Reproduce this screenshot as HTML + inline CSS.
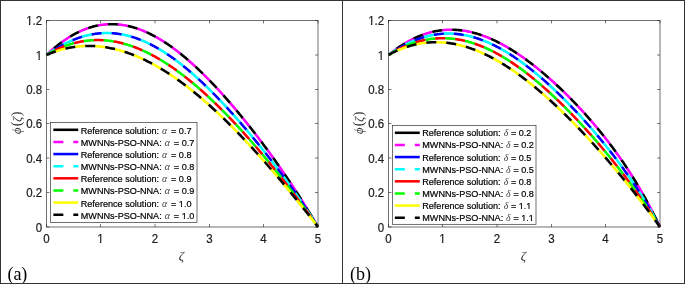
<!DOCTYPE html>
<html><head><meta charset="utf-8"><title>fig</title>
<style>
html,body{margin:0;padding:0;background:#fff;}
svg{display:block;will-change:transform;opacity:0.999;}
text{font-family:"Liberation Sans",sans-serif;fill:#1a1a1a;}
.tk{font-size:11.5px;stroke:#222;stroke-width:0.2px;}
.lg{font-size:9.1px;fill:#000;stroke:#000;stroke-width:0.2px;}
.mi{font-family:"Liberation Serif",serif;font-style:italic;fill:#333;}
.sy{font-size:9.8px;fill:#444;}
.mr{font-family:"Liberation Serif",serif;font-style:normal;}
.pl{font-family:"Liberation Serif",serif;font-size:18px;fill:#000;}
</style></head><body>
<svg width="685" height="284" viewBox="0 0 685 284">

<g>
<path d="M46.50,54.92 L47.59,53.90 L48.67,52.91 L49.76,51.92 L50.84,50.96 L51.93,50.01 L53.02,49.08 L54.10,48.16 L55.19,47.26 L56.27,46.38 L57.36,45.51 L58.45,44.67 L59.53,43.83 L60.62,43.02 L61.70,42.22 L62.79,41.44 L63.88,40.67 L64.96,39.93 L66.05,39.20 L67.13,38.49 L68.22,37.79 L69.31,37.11 L70.39,36.45 L71.48,35.81 L72.56,35.18 L73.65,34.57 L74.74,33.98 L75.82,33.41 L76.91,32.85 L77.99,32.31 L79.08,31.79 L80.17,31.29 L81.25,30.80 L82.34,30.33 L83.42,29.88 L84.51,29.44 L85.60,29.03 L86.68,28.63 L87.77,28.25 L88.85,27.88 L89.94,27.53 L91.03,27.20 L92.11,26.89 L93.20,26.59 L94.28,26.31 L95.37,26.05 L96.46,25.81 L97.54,25.58 L98.63,25.37 L99.71,25.18 L100.80,25.00 L101.89,24.84 L102.97,24.70 L104.06,24.58 L105.14,24.47 L106.23,24.38 L107.32,24.30 L108.40,24.25 L109.49,24.20 L110.57,24.18 L111.66,24.17 L112.75,24.18 L113.83,24.20 L114.92,24.24 L116.00,24.30 L117.09,24.37 L118.18,24.46 L119.26,24.57 L120.35,24.69 L121.43,24.83 L122.52,24.98 L123.61,25.15 L124.69,25.33 L125.78,25.53 L126.86,25.75 L127.95,25.98 L129.04,26.23 L130.12,26.49 L131.21,26.77 L132.29,27.06 L133.38,27.36 L134.47,27.69 L135.55,28.02 L136.64,28.37 L137.72,28.74 L138.81,29.12 L139.90,29.52 L140.98,29.93 L142.07,30.35 L143.15,30.79 L144.24,31.24 L145.33,31.70 L146.41,32.18 L147.50,32.68 L148.58,33.19 L149.67,33.71 L150.76,34.24 L151.84,34.79 L152.93,35.35 L154.01,35.92 L155.10,36.51 L156.19,37.11 L157.27,37.72 L158.36,38.35 L159.44,38.99 L160.53,39.64 L161.62,40.30 L162.70,40.98 L163.79,41.67 L164.87,42.37 L165.96,43.08 L167.05,43.81 L168.13,44.54 L169.22,45.29 L170.30,46.05 L171.39,46.82 L172.48,47.60 L173.56,48.40 L174.65,49.20 L175.73,50.02 L176.82,50.85 L177.91,51.68 L178.99,52.53 L180.08,53.39 L181.16,54.26 L182.25,55.14 L183.34,56.03 L184.42,56.94 L185.51,57.85 L186.59,58.77 L187.68,59.70 L188.77,60.64 L189.85,61.59 L190.94,62.56 L192.02,63.53 L193.11,64.51 L194.20,65.50 L195.28,66.50 L196.37,67.50 L197.45,68.52 L198.54,69.55 L199.63,70.58 L200.71,71.63 L201.80,72.68 L202.88,73.74 L203.97,74.81 L205.06,75.89 L206.14,76.98 L207.23,78.07 L208.31,79.18 L209.40,80.29 L210.49,81.41 L211.57,82.54 L212.66,83.67 L213.74,84.82 L214.83,85.97 L215.92,87.13 L217.00,88.30 L218.09,89.47 L219.17,90.65 L220.26,91.84 L221.35,93.04 L222.43,94.24 L223.52,95.46 L224.60,96.67 L225.69,97.90 L226.78,99.13 L227.86,100.37 L228.95,101.62 L230.03,102.87 L231.12,104.13 L232.21,105.40 L233.29,106.67 L234.38,107.95 L235.46,109.24 L236.55,110.54 L237.64,111.84 L238.72,113.14 L239.81,114.46 L240.89,115.78 L241.98,117.10 L243.07,118.44 L244.15,119.78 L245.24,121.12 L246.32,122.47 L247.41,123.83 L248.50,125.20 L249.58,126.57 L250.67,127.94 L251.75,129.33 L252.84,130.72 L253.93,132.11 L255.01,133.52 L256.10,134.92 L257.18,136.34 L258.27,137.76 L259.36,139.19 L260.44,140.62 L261.53,142.06 L262.61,143.51 L263.70,144.96 L264.79,146.42 L265.87,147.88 L266.96,149.36 L268.04,150.83 L269.13,152.32 L270.22,153.81 L271.30,155.31 L272.39,156.81 L273.47,158.32 L274.56,159.84 L275.65,161.36 L276.73,162.89 L277.82,164.43 L278.90,165.98 L279.99,167.53 L281.08,169.09 L282.16,170.65 L283.25,172.23 L284.33,173.81 L285.42,175.39 L286.51,176.99 L287.59,178.59 L288.68,180.20 L289.76,181.82 L290.85,183.45 L291.94,185.08 L293.02,186.72 L294.11,188.37 L295.19,190.03 L296.28,191.70 L297.37,193.37 L298.45,195.05 L299.54,196.75 L300.62,198.45 L301.71,200.16 L302.80,201.88 L303.88,203.61 L304.97,205.34 L306.05,207.09 L307.14,208.85 L308.23,210.62 L309.31,212.39 L310.40,214.18 L311.48,215.98 L312.57,217.79 L313.66,219.61 L314.74,221.44 L315.83,223.28 L316.91,225.14 L318.00,227.00" fill="none" stroke="#000000" stroke-width="1.65" stroke-linejoin="round"/>
<path d="M46.50,54.92 L47.59,53.90 L48.67,52.91 L49.76,51.92 L50.84,50.96 L51.93,50.01 L53.02,49.08 L54.10,48.16 L55.19,47.26 L56.27,46.38 L57.36,45.51 L58.45,44.67 L59.53,43.83 L60.62,43.02 L61.70,42.22 L62.79,41.44 L63.88,40.67 L64.96,39.93 L66.05,39.20 L67.13,38.49 L68.22,37.79 L69.31,37.11 L70.39,36.45 L71.48,35.81 L72.56,35.18 L73.65,34.57 L74.74,33.98 L75.82,33.41 L76.91,32.85 L77.99,32.31 L79.08,31.79 L80.17,31.29 L81.25,30.80 L82.34,30.33 L83.42,29.88 L84.51,29.44 L85.60,29.03 L86.68,28.63 L87.77,28.25 L88.85,27.88 L89.94,27.53 L91.03,27.20 L92.11,26.89 L93.20,26.59 L94.28,26.31 L95.37,26.05 L96.46,25.81 L97.54,25.58 L98.63,25.37 L99.71,25.18 L100.80,25.00 L101.89,24.84 L102.97,24.70 L104.06,24.58 L105.14,24.47 L106.23,24.38 L107.32,24.30 L108.40,24.25 L109.49,24.20 L110.57,24.18 L111.66,24.17 L112.75,24.18 L113.83,24.20 L114.92,24.24 L116.00,24.30 L117.09,24.37 L118.18,24.46 L119.26,24.57 L120.35,24.69 L121.43,24.83 L122.52,24.98 L123.61,25.15 L124.69,25.33 L125.78,25.53 L126.86,25.75 L127.95,25.98 L129.04,26.23 L130.12,26.49 L131.21,26.77 L132.29,27.06 L133.38,27.36 L134.47,27.69 L135.55,28.02 L136.64,28.37 L137.72,28.74 L138.81,29.12 L139.90,29.52 L140.98,29.93 L142.07,30.35 L143.15,30.79 L144.24,31.24 L145.33,31.70 L146.41,32.18 L147.50,32.68 L148.58,33.19 L149.67,33.71 L150.76,34.24 L151.84,34.79 L152.93,35.35 L154.01,35.92 L155.10,36.51 L156.19,37.11 L157.27,37.72 L158.36,38.35 L159.44,38.99 L160.53,39.64 L161.62,40.30 L162.70,40.98 L163.79,41.67 L164.87,42.37 L165.96,43.08 L167.05,43.81 L168.13,44.54 L169.22,45.29 L170.30,46.05 L171.39,46.82 L172.48,47.60 L173.56,48.40 L174.65,49.20 L175.73,50.02 L176.82,50.85 L177.91,51.68 L178.99,52.53 L180.08,53.39 L181.16,54.26 L182.25,55.14 L183.34,56.03 L184.42,56.94 L185.51,57.85 L186.59,58.77 L187.68,59.70 L188.77,60.64 L189.85,61.59 L190.94,62.56 L192.02,63.53 L193.11,64.51 L194.20,65.50 L195.28,66.50 L196.37,67.50 L197.45,68.52 L198.54,69.55 L199.63,70.58 L200.71,71.63 L201.80,72.68 L202.88,73.74 L203.97,74.81 L205.06,75.89 L206.14,76.98 L207.23,78.07 L208.31,79.18 L209.40,80.29 L210.49,81.41 L211.57,82.54 L212.66,83.67 L213.74,84.82 L214.83,85.97 L215.92,87.13 L217.00,88.30 L218.09,89.47 L219.17,90.65 L220.26,91.84 L221.35,93.04 L222.43,94.24 L223.52,95.46 L224.60,96.67 L225.69,97.90 L226.78,99.13 L227.86,100.37 L228.95,101.62 L230.03,102.87 L231.12,104.13 L232.21,105.40 L233.29,106.67 L234.38,107.95 L235.46,109.24 L236.55,110.54 L237.64,111.84 L238.72,113.14 L239.81,114.46 L240.89,115.78 L241.98,117.10 L243.07,118.44 L244.15,119.78 L245.24,121.12 L246.32,122.47 L247.41,123.83 L248.50,125.20 L249.58,126.57 L250.67,127.94 L251.75,129.33 L252.84,130.72 L253.93,132.11 L255.01,133.52 L256.10,134.92 L257.18,136.34 L258.27,137.76 L259.36,139.19 L260.44,140.62 L261.53,142.06 L262.61,143.51 L263.70,144.96 L264.79,146.42 L265.87,147.88 L266.96,149.36 L268.04,150.83 L269.13,152.32 L270.22,153.81 L271.30,155.31 L272.39,156.81 L273.47,158.32 L274.56,159.84 L275.65,161.36 L276.73,162.89 L277.82,164.43 L278.90,165.98 L279.99,167.53 L281.08,169.09 L282.16,170.65 L283.25,172.23 L284.33,173.81 L285.42,175.39 L286.51,176.99 L287.59,178.59 L288.68,180.20 L289.76,181.82 L290.85,183.45 L291.94,185.08 L293.02,186.72 L294.11,188.37 L295.19,190.03 L296.28,191.70 L297.37,193.37 L298.45,195.05 L299.54,196.75 L300.62,198.45 L301.71,200.16 L302.80,201.88 L303.88,203.61 L304.97,205.34 L306.05,207.09 L307.14,208.85 L308.23,210.62 L309.31,212.39 L310.40,214.18 L311.48,215.98 L312.57,217.79 L313.66,219.61 L314.74,221.44 L315.83,223.28 L316.91,225.14 L318.00,227.00" fill="none" stroke="#000000" stroke-width="2.55" stroke-dasharray="10.0 10.0" stroke-dashoffset="-10.0" stroke-linejoin="round"/>
<path d="M46.50,54.92 L47.59,53.90 L48.67,52.91 L49.76,51.92 L50.84,50.96 L51.93,50.01 L53.02,49.08 L54.10,48.16 L55.19,47.26 L56.27,46.38 L57.36,45.51 L58.45,44.67 L59.53,43.83 L60.62,43.02 L61.70,42.22 L62.79,41.44 L63.88,40.67 L64.96,39.93 L66.05,39.20 L67.13,38.49 L68.22,37.79 L69.31,37.11 L70.39,36.45 L71.48,35.81 L72.56,35.18 L73.65,34.57 L74.74,33.98 L75.82,33.41 L76.91,32.85 L77.99,32.31 L79.08,31.79 L80.17,31.29 L81.25,30.80 L82.34,30.33 L83.42,29.88 L84.51,29.44 L85.60,29.03 L86.68,28.63 L87.77,28.25 L88.85,27.88 L89.94,27.53 L91.03,27.20 L92.11,26.89 L93.20,26.59 L94.28,26.31 L95.37,26.05 L96.46,25.81 L97.54,25.58 L98.63,25.37 L99.71,25.18 L100.80,25.00 L101.89,24.84 L102.97,24.70 L104.06,24.58 L105.14,24.47 L106.23,24.38 L107.32,24.30 L108.40,24.25 L109.49,24.20 L110.57,24.18 L111.66,24.17 L112.75,24.18 L113.83,24.20 L114.92,24.24 L116.00,24.30 L117.09,24.37 L118.18,24.46 L119.26,24.57 L120.35,24.69 L121.43,24.83 L122.52,24.98 L123.61,25.15 L124.69,25.33 L125.78,25.53 L126.86,25.75 L127.95,25.98 L129.04,26.23 L130.12,26.49 L131.21,26.77 L132.29,27.06 L133.38,27.36 L134.47,27.69 L135.55,28.02 L136.64,28.37 L137.72,28.74 L138.81,29.12 L139.90,29.52 L140.98,29.93 L142.07,30.35 L143.15,30.79 L144.24,31.24 L145.33,31.70 L146.41,32.18 L147.50,32.68 L148.58,33.19 L149.67,33.71 L150.76,34.24 L151.84,34.79 L152.93,35.35 L154.01,35.92 L155.10,36.51 L156.19,37.11 L157.27,37.72 L158.36,38.35 L159.44,38.99 L160.53,39.64 L161.62,40.30 L162.70,40.98 L163.79,41.67 L164.87,42.37 L165.96,43.08 L167.05,43.81 L168.13,44.54 L169.22,45.29 L170.30,46.05 L171.39,46.82 L172.48,47.60 L173.56,48.40 L174.65,49.20 L175.73,50.02 L176.82,50.85 L177.91,51.68 L178.99,52.53 L180.08,53.39 L181.16,54.26 L182.25,55.14 L183.34,56.03 L184.42,56.94 L185.51,57.85 L186.59,58.77 L187.68,59.70 L188.77,60.64 L189.85,61.59 L190.94,62.56 L192.02,63.53 L193.11,64.51 L194.20,65.50 L195.28,66.50 L196.37,67.50 L197.45,68.52 L198.54,69.55 L199.63,70.58 L200.71,71.63 L201.80,72.68 L202.88,73.74 L203.97,74.81 L205.06,75.89 L206.14,76.98 L207.23,78.07 L208.31,79.18 L209.40,80.29 L210.49,81.41 L211.57,82.54 L212.66,83.67 L213.74,84.82 L214.83,85.97 L215.92,87.13 L217.00,88.30 L218.09,89.47 L219.17,90.65 L220.26,91.84 L221.35,93.04 L222.43,94.24 L223.52,95.46 L224.60,96.67 L225.69,97.90 L226.78,99.13 L227.86,100.37 L228.95,101.62 L230.03,102.87 L231.12,104.13 L232.21,105.40 L233.29,106.67 L234.38,107.95 L235.46,109.24 L236.55,110.54 L237.64,111.84 L238.72,113.14 L239.81,114.46 L240.89,115.78 L241.98,117.10 L243.07,118.44 L244.15,119.78 L245.24,121.12 L246.32,122.47 L247.41,123.83 L248.50,125.20 L249.58,126.57 L250.67,127.94 L251.75,129.33 L252.84,130.72 L253.93,132.11 L255.01,133.52 L256.10,134.92 L257.18,136.34 L258.27,137.76 L259.36,139.19 L260.44,140.62 L261.53,142.06 L262.61,143.51 L263.70,144.96 L264.79,146.42 L265.87,147.88 L266.96,149.36 L268.04,150.83 L269.13,152.32 L270.22,153.81 L271.30,155.31 L272.39,156.81 L273.47,158.32 L274.56,159.84 L275.65,161.36 L276.73,162.89 L277.82,164.43 L278.90,165.98 L279.99,167.53 L281.08,169.09 L282.16,170.65 L283.25,172.23 L284.33,173.81 L285.42,175.39 L286.51,176.99 L287.59,178.59 L288.68,180.20 L289.76,181.82 L290.85,183.45 L291.94,185.08 L293.02,186.72 L294.11,188.37 L295.19,190.03 L296.28,191.70 L297.37,193.37 L298.45,195.05 L299.54,196.75 L300.62,198.45 L301.71,200.16 L302.80,201.88 L303.88,203.61 L304.97,205.34 L306.05,207.09 L307.14,208.85 L308.23,210.62 L309.31,212.39 L310.40,214.18 L311.48,215.98 L312.57,217.79 L313.66,219.61 L314.74,221.44 L315.83,223.28 L316.91,225.14 L318.00,227.00" fill="none" stroke="#ff00ff" stroke-width="2.55" stroke-dasharray="10.0 10.0" stroke-linejoin="round"/>
<path d="M46.50,54.92 L47.59,54.16 L48.67,53.42 L49.76,52.69 L50.84,51.98 L51.93,51.27 L53.02,50.57 L54.10,49.89 L55.19,49.22 L56.27,48.56 L57.36,47.92 L58.45,47.28 L59.53,46.66 L60.62,46.05 L61.70,45.46 L62.79,44.88 L63.88,44.31 L64.96,43.75 L66.05,43.21 L67.13,42.68 L68.22,42.16 L69.31,41.66 L70.39,41.17 L71.48,40.70 L72.56,40.24 L73.65,39.79 L74.74,39.35 L75.82,38.93 L76.91,38.53 L77.99,38.14 L79.08,37.76 L80.17,37.40 L81.25,37.05 L82.34,36.71 L83.42,36.39 L84.51,36.09 L85.60,35.79 L86.68,35.52 L87.77,35.25 L88.85,35.01 L89.94,34.77 L91.03,34.55 L92.11,34.35 L93.20,34.16 L94.28,33.98 L95.37,33.82 L96.46,33.68 L97.54,33.55 L98.63,33.43 L99.71,33.33 L100.80,33.24 L101.89,33.17 L102.97,33.11 L104.06,33.06 L105.14,33.03 L106.23,33.02 L107.32,33.02 L108.40,33.03 L109.49,33.06 L110.57,33.11 L111.66,33.16 L112.75,33.24 L113.83,33.32 L114.92,33.42 L116.00,33.54 L117.09,33.67 L118.18,33.81 L119.26,33.97 L120.35,34.14 L121.43,34.33 L122.52,34.53 L123.61,34.74 L124.69,34.97 L125.78,35.21 L126.86,35.47 L127.95,35.74 L129.04,36.02 L130.12,36.32 L131.21,36.63 L132.29,36.96 L133.38,37.29 L134.47,37.64 L135.55,38.01 L136.64,38.39 L137.72,38.78 L138.81,39.18 L139.90,39.60 L140.98,40.03 L142.07,40.47 L143.15,40.93 L144.24,41.40 L145.33,41.88 L146.41,42.37 L147.50,42.88 L148.58,43.40 L149.67,43.93 L150.76,44.47 L151.84,45.03 L152.93,45.60 L154.01,46.18 L155.10,46.77 L156.19,47.37 L157.27,47.99 L158.36,48.61 L159.44,49.25 L160.53,49.90 L161.62,50.56 L162.70,51.23 L163.79,51.92 L164.87,52.61 L165.96,53.32 L167.05,54.04 L168.13,54.76 L169.22,55.50 L170.30,56.25 L171.39,57.01 L172.48,57.78 L173.56,58.56 L174.65,59.35 L175.73,60.15 L176.82,60.96 L177.91,61.78 L178.99,62.61 L180.08,63.45 L181.16,64.30 L182.25,65.16 L183.34,66.03 L184.42,66.91 L185.51,67.80 L186.59,68.69 L187.68,69.60 L188.77,70.51 L189.85,71.44 L190.94,72.37 L192.02,73.31 L193.11,74.26 L194.20,75.22 L195.28,76.19 L196.37,77.16 L197.45,78.14 L198.54,79.14 L199.63,80.14 L200.71,81.14 L201.80,82.16 L202.88,83.18 L203.97,84.21 L205.06,85.25 L206.14,86.30 L207.23,87.35 L208.31,88.41 L209.40,89.48 L210.49,90.56 L211.57,91.64 L212.66,92.73 L213.74,93.83 L214.83,94.93 L215.92,96.04 L217.00,97.16 L218.09,98.28 L219.17,99.41 L220.26,100.55 L221.35,101.69 L222.43,102.84 L223.52,104.00 L224.60,105.16 L225.69,106.33 L226.78,107.51 L227.86,108.69 L228.95,109.88 L230.03,111.07 L231.12,112.27 L232.21,113.47 L233.29,114.68 L234.38,115.90 L235.46,117.12 L236.55,118.35 L237.64,119.59 L238.72,120.83 L239.81,122.07 L240.89,123.32 L241.98,124.58 L243.07,125.84 L244.15,127.11 L245.24,128.38 L246.32,129.66 L247.41,130.94 L248.50,132.23 L249.58,133.52 L250.67,134.82 L251.75,136.13 L252.84,137.43 L253.93,138.75 L255.01,140.07 L256.10,141.40 L257.18,142.73 L258.27,144.06 L259.36,145.40 L260.44,146.75 L261.53,148.10 L262.61,149.46 L263.70,150.82 L264.79,152.19 L265.87,153.56 L266.96,154.94 L268.04,156.33 L269.13,157.72 L270.22,159.11 L271.30,160.51 L272.39,161.92 L273.47,163.33 L274.56,164.75 L275.65,166.17 L276.73,167.60 L277.82,169.03 L278.90,170.47 L279.99,171.92 L281.08,173.37 L282.16,174.83 L283.25,176.29 L284.33,177.76 L285.42,179.24 L286.51,180.72 L287.59,182.21 L288.68,183.71 L289.76,185.21 L290.85,186.72 L291.94,188.24 L293.02,189.76 L294.11,191.29 L295.19,192.83 L296.28,194.37 L297.37,195.92 L298.45,197.48 L299.54,199.05 L300.62,200.62 L301.71,202.21 L302.80,203.80 L303.88,205.40 L304.97,207.00 L306.05,208.62 L307.14,210.24 L308.23,211.88 L309.31,213.52 L310.40,215.17 L311.48,216.83 L312.57,218.50 L313.66,220.18 L314.74,221.87 L315.83,223.57 L316.91,225.28 L318.00,227.00" fill="none" stroke="#0000ff" stroke-width="1.65" stroke-linejoin="round"/>
<path d="M46.50,54.92 L47.59,54.16 L48.67,53.42 L49.76,52.69 L50.84,51.98 L51.93,51.27 L53.02,50.57 L54.10,49.89 L55.19,49.22 L56.27,48.56 L57.36,47.92 L58.45,47.28 L59.53,46.66 L60.62,46.05 L61.70,45.46 L62.79,44.88 L63.88,44.31 L64.96,43.75 L66.05,43.21 L67.13,42.68 L68.22,42.16 L69.31,41.66 L70.39,41.17 L71.48,40.70 L72.56,40.24 L73.65,39.79 L74.74,39.35 L75.82,38.93 L76.91,38.53 L77.99,38.14 L79.08,37.76 L80.17,37.40 L81.25,37.05 L82.34,36.71 L83.42,36.39 L84.51,36.09 L85.60,35.79 L86.68,35.52 L87.77,35.25 L88.85,35.01 L89.94,34.77 L91.03,34.55 L92.11,34.35 L93.20,34.16 L94.28,33.98 L95.37,33.82 L96.46,33.68 L97.54,33.55 L98.63,33.43 L99.71,33.33 L100.80,33.24 L101.89,33.17 L102.97,33.11 L104.06,33.06 L105.14,33.03 L106.23,33.02 L107.32,33.02 L108.40,33.03 L109.49,33.06 L110.57,33.11 L111.66,33.16 L112.75,33.24 L113.83,33.32 L114.92,33.42 L116.00,33.54 L117.09,33.67 L118.18,33.81 L119.26,33.97 L120.35,34.14 L121.43,34.33 L122.52,34.53 L123.61,34.74 L124.69,34.97 L125.78,35.21 L126.86,35.47 L127.95,35.74 L129.04,36.02 L130.12,36.32 L131.21,36.63 L132.29,36.96 L133.38,37.29 L134.47,37.64 L135.55,38.01 L136.64,38.39 L137.72,38.78 L138.81,39.18 L139.90,39.60 L140.98,40.03 L142.07,40.47 L143.15,40.93 L144.24,41.40 L145.33,41.88 L146.41,42.37 L147.50,42.88 L148.58,43.40 L149.67,43.93 L150.76,44.47 L151.84,45.03 L152.93,45.60 L154.01,46.18 L155.10,46.77 L156.19,47.37 L157.27,47.99 L158.36,48.61 L159.44,49.25 L160.53,49.90 L161.62,50.56 L162.70,51.23 L163.79,51.92 L164.87,52.61 L165.96,53.32 L167.05,54.04 L168.13,54.76 L169.22,55.50 L170.30,56.25 L171.39,57.01 L172.48,57.78 L173.56,58.56 L174.65,59.35 L175.73,60.15 L176.82,60.96 L177.91,61.78 L178.99,62.61 L180.08,63.45 L181.16,64.30 L182.25,65.16 L183.34,66.03 L184.42,66.91 L185.51,67.80 L186.59,68.69 L187.68,69.60 L188.77,70.51 L189.85,71.44 L190.94,72.37 L192.02,73.31 L193.11,74.26 L194.20,75.22 L195.28,76.19 L196.37,77.16 L197.45,78.14 L198.54,79.14 L199.63,80.14 L200.71,81.14 L201.80,82.16 L202.88,83.18 L203.97,84.21 L205.06,85.25 L206.14,86.30 L207.23,87.35 L208.31,88.41 L209.40,89.48 L210.49,90.56 L211.57,91.64 L212.66,92.73 L213.74,93.83 L214.83,94.93 L215.92,96.04 L217.00,97.16 L218.09,98.28 L219.17,99.41 L220.26,100.55 L221.35,101.69 L222.43,102.84 L223.52,104.00 L224.60,105.16 L225.69,106.33 L226.78,107.51 L227.86,108.69 L228.95,109.88 L230.03,111.07 L231.12,112.27 L232.21,113.47 L233.29,114.68 L234.38,115.90 L235.46,117.12 L236.55,118.35 L237.64,119.59 L238.72,120.83 L239.81,122.07 L240.89,123.32 L241.98,124.58 L243.07,125.84 L244.15,127.11 L245.24,128.38 L246.32,129.66 L247.41,130.94 L248.50,132.23 L249.58,133.52 L250.67,134.82 L251.75,136.13 L252.84,137.43 L253.93,138.75 L255.01,140.07 L256.10,141.40 L257.18,142.73 L258.27,144.06 L259.36,145.40 L260.44,146.75 L261.53,148.10 L262.61,149.46 L263.70,150.82 L264.79,152.19 L265.87,153.56 L266.96,154.94 L268.04,156.33 L269.13,157.72 L270.22,159.11 L271.30,160.51 L272.39,161.92 L273.47,163.33 L274.56,164.75 L275.65,166.17 L276.73,167.60 L277.82,169.03 L278.90,170.47 L279.99,171.92 L281.08,173.37 L282.16,174.83 L283.25,176.29 L284.33,177.76 L285.42,179.24 L286.51,180.72 L287.59,182.21 L288.68,183.71 L289.76,185.21 L290.85,186.72 L291.94,188.24 L293.02,189.76 L294.11,191.29 L295.19,192.83 L296.28,194.37 L297.37,195.92 L298.45,197.48 L299.54,199.05 L300.62,200.62 L301.71,202.21 L302.80,203.80 L303.88,205.40 L304.97,207.00 L306.05,208.62 L307.14,210.24 L308.23,211.88 L309.31,213.52 L310.40,215.17 L311.48,216.83 L312.57,218.50 L313.66,220.18 L314.74,221.87 L315.83,223.57 L316.91,225.28 L318.00,227.00" fill="none" stroke="#0000ff" stroke-width="2.55" stroke-dasharray="10.0 10.0" stroke-dashoffset="-10.0" stroke-linejoin="round"/>
<path d="M46.50,54.92 L47.59,54.16 L48.67,53.42 L49.76,52.69 L50.84,51.98 L51.93,51.27 L53.02,50.57 L54.10,49.89 L55.19,49.22 L56.27,48.56 L57.36,47.92 L58.45,47.28 L59.53,46.66 L60.62,46.05 L61.70,45.46 L62.79,44.88 L63.88,44.31 L64.96,43.75 L66.05,43.21 L67.13,42.68 L68.22,42.16 L69.31,41.66 L70.39,41.17 L71.48,40.70 L72.56,40.24 L73.65,39.79 L74.74,39.35 L75.82,38.93 L76.91,38.53 L77.99,38.14 L79.08,37.76 L80.17,37.40 L81.25,37.05 L82.34,36.71 L83.42,36.39 L84.51,36.09 L85.60,35.79 L86.68,35.52 L87.77,35.25 L88.85,35.01 L89.94,34.77 L91.03,34.55 L92.11,34.35 L93.20,34.16 L94.28,33.98 L95.37,33.82 L96.46,33.68 L97.54,33.55 L98.63,33.43 L99.71,33.33 L100.80,33.24 L101.89,33.17 L102.97,33.11 L104.06,33.06 L105.14,33.03 L106.23,33.02 L107.32,33.02 L108.40,33.03 L109.49,33.06 L110.57,33.11 L111.66,33.16 L112.75,33.24 L113.83,33.32 L114.92,33.42 L116.00,33.54 L117.09,33.67 L118.18,33.81 L119.26,33.97 L120.35,34.14 L121.43,34.33 L122.52,34.53 L123.61,34.74 L124.69,34.97 L125.78,35.21 L126.86,35.47 L127.95,35.74 L129.04,36.02 L130.12,36.32 L131.21,36.63 L132.29,36.96 L133.38,37.29 L134.47,37.64 L135.55,38.01 L136.64,38.39 L137.72,38.78 L138.81,39.18 L139.90,39.60 L140.98,40.03 L142.07,40.47 L143.15,40.93 L144.24,41.40 L145.33,41.88 L146.41,42.37 L147.50,42.88 L148.58,43.40 L149.67,43.93 L150.76,44.47 L151.84,45.03 L152.93,45.60 L154.01,46.18 L155.10,46.77 L156.19,47.37 L157.27,47.99 L158.36,48.61 L159.44,49.25 L160.53,49.90 L161.62,50.56 L162.70,51.23 L163.79,51.92 L164.87,52.61 L165.96,53.32 L167.05,54.04 L168.13,54.76 L169.22,55.50 L170.30,56.25 L171.39,57.01 L172.48,57.78 L173.56,58.56 L174.65,59.35 L175.73,60.15 L176.82,60.96 L177.91,61.78 L178.99,62.61 L180.08,63.45 L181.16,64.30 L182.25,65.16 L183.34,66.03 L184.42,66.91 L185.51,67.80 L186.59,68.69 L187.68,69.60 L188.77,70.51 L189.85,71.44 L190.94,72.37 L192.02,73.31 L193.11,74.26 L194.20,75.22 L195.28,76.19 L196.37,77.16 L197.45,78.14 L198.54,79.14 L199.63,80.14 L200.71,81.14 L201.80,82.16 L202.88,83.18 L203.97,84.21 L205.06,85.25 L206.14,86.30 L207.23,87.35 L208.31,88.41 L209.40,89.48 L210.49,90.56 L211.57,91.64 L212.66,92.73 L213.74,93.83 L214.83,94.93 L215.92,96.04 L217.00,97.16 L218.09,98.28 L219.17,99.41 L220.26,100.55 L221.35,101.69 L222.43,102.84 L223.52,104.00 L224.60,105.16 L225.69,106.33 L226.78,107.51 L227.86,108.69 L228.95,109.88 L230.03,111.07 L231.12,112.27 L232.21,113.47 L233.29,114.68 L234.38,115.90 L235.46,117.12 L236.55,118.35 L237.64,119.59 L238.72,120.83 L239.81,122.07 L240.89,123.32 L241.98,124.58 L243.07,125.84 L244.15,127.11 L245.24,128.38 L246.32,129.66 L247.41,130.94 L248.50,132.23 L249.58,133.52 L250.67,134.82 L251.75,136.13 L252.84,137.43 L253.93,138.75 L255.01,140.07 L256.10,141.40 L257.18,142.73 L258.27,144.06 L259.36,145.40 L260.44,146.75 L261.53,148.10 L262.61,149.46 L263.70,150.82 L264.79,152.19 L265.87,153.56 L266.96,154.94 L268.04,156.33 L269.13,157.72 L270.22,159.11 L271.30,160.51 L272.39,161.92 L273.47,163.33 L274.56,164.75 L275.65,166.17 L276.73,167.60 L277.82,169.03 L278.90,170.47 L279.99,171.92 L281.08,173.37 L282.16,174.83 L283.25,176.29 L284.33,177.76 L285.42,179.24 L286.51,180.72 L287.59,182.21 L288.68,183.71 L289.76,185.21 L290.85,186.72 L291.94,188.24 L293.02,189.76 L294.11,191.29 L295.19,192.83 L296.28,194.37 L297.37,195.92 L298.45,197.48 L299.54,199.05 L300.62,200.62 L301.71,202.21 L302.80,203.80 L303.88,205.40 L304.97,207.00 L306.05,208.62 L307.14,210.24 L308.23,211.88 L309.31,213.52 L310.40,215.17 L311.48,216.83 L312.57,218.50 L313.66,220.18 L314.74,221.87 L315.83,223.57 L316.91,225.28 L318.00,227.00" fill="none" stroke="#00ffff" stroke-width="2.55" stroke-dasharray="10.0 10.0" stroke-linejoin="round"/>
<path d="M46.50,54.92 L47.59,54.28 L48.67,53.66 L49.76,53.06 L50.84,52.47 L51.93,51.89 L53.02,51.33 L54.10,50.78 L55.19,50.24 L56.27,49.72 L57.36,49.21 L58.45,48.72 L59.53,48.24 L60.62,47.77 L61.70,47.32 L62.79,46.89 L63.88,46.46 L64.96,46.05 L66.05,45.66 L67.13,45.27 L68.22,44.91 L69.31,44.55 L70.39,44.21 L71.48,43.88 L72.56,43.57 L73.65,43.27 L74.74,42.99 L75.82,42.71 L76.91,42.45 L77.99,42.21 L79.08,41.98 L80.17,41.76 L81.25,41.56 L82.34,41.36 L83.42,41.19 L84.51,41.02 L85.60,40.87 L86.68,40.73 L87.77,40.61 L88.85,40.50 L89.94,40.40 L91.03,40.31 L92.11,40.24 L93.20,40.18 L94.28,40.14 L95.37,40.10 L96.46,40.08 L97.54,40.07 L98.63,40.08 L99.71,40.10 L100.80,40.13 L101.89,40.17 L102.97,40.23 L104.06,40.30 L105.14,40.38 L106.23,40.47 L107.32,40.58 L108.40,40.70 L109.49,40.83 L110.57,40.97 L111.66,41.13 L112.75,41.29 L113.83,41.47 L114.92,41.66 L116.00,41.87 L117.09,42.08 L118.18,42.31 L119.26,42.55 L120.35,42.80 L121.43,43.06 L122.52,43.34 L123.61,43.63 L124.69,43.92 L125.78,44.23 L126.86,44.55 L127.95,44.89 L129.04,45.23 L130.12,45.58 L131.21,45.95 L132.29,46.33 L133.38,46.72 L134.47,47.11 L135.55,47.52 L136.64,47.95 L137.72,48.38 L138.81,48.82 L139.90,49.27 L140.98,49.74 L142.07,50.21 L143.15,50.70 L144.24,51.19 L145.33,51.70 L146.41,52.22 L147.50,52.74 L148.58,53.28 L149.67,53.83 L150.76,54.39 L151.84,54.95 L152.93,55.53 L154.01,56.12 L155.10,56.71 L156.19,57.32 L157.27,57.94 L158.36,58.57 L159.44,59.20 L160.53,59.85 L161.62,60.50 L162.70,61.17 L163.79,61.84 L164.87,62.52 L165.96,63.22 L167.05,63.92 L168.13,64.63 L169.22,65.35 L170.30,66.08 L171.39,66.81 L172.48,67.56 L173.56,68.31 L174.65,69.08 L175.73,69.85 L176.82,70.63 L177.91,71.42 L178.99,72.22 L180.08,73.03 L181.16,73.84 L182.25,74.66 L183.34,75.49 L184.42,76.33 L185.51,77.18 L186.59,78.04 L187.68,78.90 L188.77,79.77 L189.85,80.65 L190.94,81.54 L192.02,82.43 L193.11,83.34 L194.20,84.25 L195.28,85.16 L196.37,86.09 L197.45,87.02 L198.54,87.96 L199.63,88.91 L200.71,89.86 L201.80,90.82 L202.88,91.79 L203.97,92.77 L205.06,93.75 L206.14,94.74 L207.23,95.74 L208.31,96.74 L209.40,97.75 L210.49,98.77 L211.57,99.80 L212.66,100.83 L213.74,101.86 L214.83,102.91 L215.92,103.96 L217.00,105.02 L218.09,106.08 L219.17,107.15 L220.26,108.23 L221.35,109.31 L222.43,110.40 L223.52,111.49 L224.60,112.59 L225.69,113.70 L226.78,114.81 L227.86,115.93 L228.95,117.06 L230.03,118.19 L231.12,119.32 L232.21,120.47 L233.29,121.61 L234.38,122.77 L235.46,123.93 L236.55,125.09 L237.64,126.26 L238.72,127.44 L239.81,128.62 L240.89,129.81 L241.98,131.00 L243.07,132.20 L244.15,133.41 L245.24,134.62 L246.32,135.83 L247.41,137.05 L248.50,138.27 L249.58,139.51 L250.67,140.74 L251.75,141.98 L252.84,143.23 L253.93,144.48 L255.01,145.74 L256.10,147.00 L257.18,148.26 L258.27,149.53 L259.36,150.81 L260.44,152.09 L261.53,153.38 L262.61,154.67 L263.70,155.97 L264.79,157.27 L265.87,158.57 L266.96,159.89 L268.04,161.20 L269.13,162.52 L270.22,163.85 L271.30,165.18 L272.39,166.51 L273.47,167.85 L274.56,169.20 L275.65,170.55 L276.73,171.90 L277.82,173.26 L278.90,174.63 L279.99,176.00 L281.08,177.37 L282.16,178.75 L283.25,180.13 L284.33,181.52 L285.42,182.91 L286.51,184.31 L287.59,185.71 L288.68,187.12 L289.76,188.53 L290.85,189.95 L291.94,191.37 L293.02,192.80 L294.11,194.23 L295.19,195.66 L296.28,197.11 L297.37,198.55 L298.45,200.00 L299.54,201.46 L300.62,202.92 L301.71,204.39 L302.80,205.86 L303.88,207.33 L304.97,208.82 L306.05,210.30 L307.14,211.79 L308.23,213.29 L309.31,214.79 L310.40,216.30 L311.48,217.81 L312.57,219.33 L313.66,220.85 L314.74,222.38 L315.83,223.92 L316.91,225.46 L318.00,227.00" fill="none" stroke="#ff0000" stroke-width="1.65" stroke-linejoin="round"/>
<path d="M46.50,54.92 L47.59,54.28 L48.67,53.66 L49.76,53.06 L50.84,52.47 L51.93,51.89 L53.02,51.33 L54.10,50.78 L55.19,50.24 L56.27,49.72 L57.36,49.21 L58.45,48.72 L59.53,48.24 L60.62,47.77 L61.70,47.32 L62.79,46.89 L63.88,46.46 L64.96,46.05 L66.05,45.66 L67.13,45.27 L68.22,44.91 L69.31,44.55 L70.39,44.21 L71.48,43.88 L72.56,43.57 L73.65,43.27 L74.74,42.99 L75.82,42.71 L76.91,42.45 L77.99,42.21 L79.08,41.98 L80.17,41.76 L81.25,41.56 L82.34,41.36 L83.42,41.19 L84.51,41.02 L85.60,40.87 L86.68,40.73 L87.77,40.61 L88.85,40.50 L89.94,40.40 L91.03,40.31 L92.11,40.24 L93.20,40.18 L94.28,40.14 L95.37,40.10 L96.46,40.08 L97.54,40.07 L98.63,40.08 L99.71,40.10 L100.80,40.13 L101.89,40.17 L102.97,40.23 L104.06,40.30 L105.14,40.38 L106.23,40.47 L107.32,40.58 L108.40,40.70 L109.49,40.83 L110.57,40.97 L111.66,41.13 L112.75,41.29 L113.83,41.47 L114.92,41.66 L116.00,41.87 L117.09,42.08 L118.18,42.31 L119.26,42.55 L120.35,42.80 L121.43,43.06 L122.52,43.34 L123.61,43.63 L124.69,43.92 L125.78,44.23 L126.86,44.55 L127.95,44.89 L129.04,45.23 L130.12,45.58 L131.21,45.95 L132.29,46.33 L133.38,46.72 L134.47,47.11 L135.55,47.52 L136.64,47.95 L137.72,48.38 L138.81,48.82 L139.90,49.27 L140.98,49.74 L142.07,50.21 L143.15,50.70 L144.24,51.19 L145.33,51.70 L146.41,52.22 L147.50,52.74 L148.58,53.28 L149.67,53.83 L150.76,54.39 L151.84,54.95 L152.93,55.53 L154.01,56.12 L155.10,56.71 L156.19,57.32 L157.27,57.94 L158.36,58.57 L159.44,59.20 L160.53,59.85 L161.62,60.50 L162.70,61.17 L163.79,61.84 L164.87,62.52 L165.96,63.22 L167.05,63.92 L168.13,64.63 L169.22,65.35 L170.30,66.08 L171.39,66.81 L172.48,67.56 L173.56,68.31 L174.65,69.08 L175.73,69.85 L176.82,70.63 L177.91,71.42 L178.99,72.22 L180.08,73.03 L181.16,73.84 L182.25,74.66 L183.34,75.49 L184.42,76.33 L185.51,77.18 L186.59,78.04 L187.68,78.90 L188.77,79.77 L189.85,80.65 L190.94,81.54 L192.02,82.43 L193.11,83.34 L194.20,84.25 L195.28,85.16 L196.37,86.09 L197.45,87.02 L198.54,87.96 L199.63,88.91 L200.71,89.86 L201.80,90.82 L202.88,91.79 L203.97,92.77 L205.06,93.75 L206.14,94.74 L207.23,95.74 L208.31,96.74 L209.40,97.75 L210.49,98.77 L211.57,99.80 L212.66,100.83 L213.74,101.86 L214.83,102.91 L215.92,103.96 L217.00,105.02 L218.09,106.08 L219.17,107.15 L220.26,108.23 L221.35,109.31 L222.43,110.40 L223.52,111.49 L224.60,112.59 L225.69,113.70 L226.78,114.81 L227.86,115.93 L228.95,117.06 L230.03,118.19 L231.12,119.32 L232.21,120.47 L233.29,121.61 L234.38,122.77 L235.46,123.93 L236.55,125.09 L237.64,126.26 L238.72,127.44 L239.81,128.62 L240.89,129.81 L241.98,131.00 L243.07,132.20 L244.15,133.41 L245.24,134.62 L246.32,135.83 L247.41,137.05 L248.50,138.27 L249.58,139.51 L250.67,140.74 L251.75,141.98 L252.84,143.23 L253.93,144.48 L255.01,145.74 L256.10,147.00 L257.18,148.26 L258.27,149.53 L259.36,150.81 L260.44,152.09 L261.53,153.38 L262.61,154.67 L263.70,155.97 L264.79,157.27 L265.87,158.57 L266.96,159.89 L268.04,161.20 L269.13,162.52 L270.22,163.85 L271.30,165.18 L272.39,166.51 L273.47,167.85 L274.56,169.20 L275.65,170.55 L276.73,171.90 L277.82,173.26 L278.90,174.63 L279.99,176.00 L281.08,177.37 L282.16,178.75 L283.25,180.13 L284.33,181.52 L285.42,182.91 L286.51,184.31 L287.59,185.71 L288.68,187.12 L289.76,188.53 L290.85,189.95 L291.94,191.37 L293.02,192.80 L294.11,194.23 L295.19,195.66 L296.28,197.11 L297.37,198.55 L298.45,200.00 L299.54,201.46 L300.62,202.92 L301.71,204.39 L302.80,205.86 L303.88,207.33 L304.97,208.82 L306.05,210.30 L307.14,211.79 L308.23,213.29 L309.31,214.79 L310.40,216.30 L311.48,217.81 L312.57,219.33 L313.66,220.85 L314.74,222.38 L315.83,223.92 L316.91,225.46 L318.00,227.00" fill="none" stroke="#ff0000" stroke-width="2.55" stroke-dasharray="10.0 10.0" stroke-dashoffset="-10.0" stroke-linejoin="round"/>
<path d="M46.50,54.92 L47.59,54.28 L48.67,53.66 L49.76,53.06 L50.84,52.47 L51.93,51.89 L53.02,51.33 L54.10,50.78 L55.19,50.24 L56.27,49.72 L57.36,49.21 L58.45,48.72 L59.53,48.24 L60.62,47.77 L61.70,47.32 L62.79,46.89 L63.88,46.46 L64.96,46.05 L66.05,45.66 L67.13,45.27 L68.22,44.91 L69.31,44.55 L70.39,44.21 L71.48,43.88 L72.56,43.57 L73.65,43.27 L74.74,42.99 L75.82,42.71 L76.91,42.45 L77.99,42.21 L79.08,41.98 L80.17,41.76 L81.25,41.56 L82.34,41.36 L83.42,41.19 L84.51,41.02 L85.60,40.87 L86.68,40.73 L87.77,40.61 L88.85,40.50 L89.94,40.40 L91.03,40.31 L92.11,40.24 L93.20,40.18 L94.28,40.14 L95.37,40.10 L96.46,40.08 L97.54,40.07 L98.63,40.08 L99.71,40.10 L100.80,40.13 L101.89,40.17 L102.97,40.23 L104.06,40.30 L105.14,40.38 L106.23,40.47 L107.32,40.58 L108.40,40.70 L109.49,40.83 L110.57,40.97 L111.66,41.13 L112.75,41.29 L113.83,41.47 L114.92,41.66 L116.00,41.87 L117.09,42.08 L118.18,42.31 L119.26,42.55 L120.35,42.80 L121.43,43.06 L122.52,43.34 L123.61,43.63 L124.69,43.92 L125.78,44.23 L126.86,44.55 L127.95,44.89 L129.04,45.23 L130.12,45.58 L131.21,45.95 L132.29,46.33 L133.38,46.72 L134.47,47.11 L135.55,47.52 L136.64,47.95 L137.72,48.38 L138.81,48.82 L139.90,49.27 L140.98,49.74 L142.07,50.21 L143.15,50.70 L144.24,51.19 L145.33,51.70 L146.41,52.22 L147.50,52.74 L148.58,53.28 L149.67,53.83 L150.76,54.39 L151.84,54.95 L152.93,55.53 L154.01,56.12 L155.10,56.71 L156.19,57.32 L157.27,57.94 L158.36,58.57 L159.44,59.20 L160.53,59.85 L161.62,60.50 L162.70,61.17 L163.79,61.84 L164.87,62.52 L165.96,63.22 L167.05,63.92 L168.13,64.63 L169.22,65.35 L170.30,66.08 L171.39,66.81 L172.48,67.56 L173.56,68.31 L174.65,69.08 L175.73,69.85 L176.82,70.63 L177.91,71.42 L178.99,72.22 L180.08,73.03 L181.16,73.84 L182.25,74.66 L183.34,75.49 L184.42,76.33 L185.51,77.18 L186.59,78.04 L187.68,78.90 L188.77,79.77 L189.85,80.65 L190.94,81.54 L192.02,82.43 L193.11,83.34 L194.20,84.25 L195.28,85.16 L196.37,86.09 L197.45,87.02 L198.54,87.96 L199.63,88.91 L200.71,89.86 L201.80,90.82 L202.88,91.79 L203.97,92.77 L205.06,93.75 L206.14,94.74 L207.23,95.74 L208.31,96.74 L209.40,97.75 L210.49,98.77 L211.57,99.80 L212.66,100.83 L213.74,101.86 L214.83,102.91 L215.92,103.96 L217.00,105.02 L218.09,106.08 L219.17,107.15 L220.26,108.23 L221.35,109.31 L222.43,110.40 L223.52,111.49 L224.60,112.59 L225.69,113.70 L226.78,114.81 L227.86,115.93 L228.95,117.06 L230.03,118.19 L231.12,119.32 L232.21,120.47 L233.29,121.61 L234.38,122.77 L235.46,123.93 L236.55,125.09 L237.64,126.26 L238.72,127.44 L239.81,128.62 L240.89,129.81 L241.98,131.00 L243.07,132.20 L244.15,133.41 L245.24,134.62 L246.32,135.83 L247.41,137.05 L248.50,138.27 L249.58,139.51 L250.67,140.74 L251.75,141.98 L252.84,143.23 L253.93,144.48 L255.01,145.74 L256.10,147.00 L257.18,148.26 L258.27,149.53 L259.36,150.81 L260.44,152.09 L261.53,153.38 L262.61,154.67 L263.70,155.97 L264.79,157.27 L265.87,158.57 L266.96,159.89 L268.04,161.20 L269.13,162.52 L270.22,163.85 L271.30,165.18 L272.39,166.51 L273.47,167.85 L274.56,169.20 L275.65,170.55 L276.73,171.90 L277.82,173.26 L278.90,174.63 L279.99,176.00 L281.08,177.37 L282.16,178.75 L283.25,180.13 L284.33,181.52 L285.42,182.91 L286.51,184.31 L287.59,185.71 L288.68,187.12 L289.76,188.53 L290.85,189.95 L291.94,191.37 L293.02,192.80 L294.11,194.23 L295.19,195.66 L296.28,197.11 L297.37,198.55 L298.45,200.00 L299.54,201.46 L300.62,202.92 L301.71,204.39 L302.80,205.86 L303.88,207.33 L304.97,208.82 L306.05,210.30 L307.14,211.79 L308.23,213.29 L309.31,214.79 L310.40,216.30 L311.48,217.81 L312.57,219.33 L313.66,220.85 L314.74,222.38 L315.83,223.92 L316.91,225.46 L318.00,227.00" fill="none" stroke="#00ff00" stroke-width="2.55" stroke-dasharray="10.0 10.0" stroke-linejoin="round"/>
<path d="M46.50,54.92 L47.59,54.45 L48.67,54.00 L49.76,53.56 L50.84,53.13 L51.93,52.72 L53.02,52.32 L54.10,51.93 L55.19,51.55 L56.27,51.19 L57.36,50.84 L58.45,50.50 L59.53,50.17 L60.62,49.86 L61.70,49.56 L62.79,49.27 L63.88,48.99 L64.96,48.73 L66.05,48.47 L67.13,48.23 L68.22,48.01 L69.31,47.79 L70.39,47.59 L71.48,47.39 L72.56,47.21 L73.65,47.05 L74.74,46.89 L75.82,46.75 L76.91,46.62 L77.99,46.50 L79.08,46.39 L80.17,46.29 L81.25,46.20 L82.34,46.13 L83.42,46.07 L84.51,46.02 L85.60,45.98 L86.68,45.95 L87.77,45.94 L88.85,45.93 L89.94,45.94 L91.03,45.96 L92.11,45.98 L93.20,46.02 L94.28,46.08 L95.37,46.14 L96.46,46.21 L97.54,46.30 L98.63,46.39 L99.71,46.50 L100.80,46.62 L101.89,46.74 L102.97,46.88 L104.06,47.03 L105.14,47.19 L106.23,47.36 L107.32,47.54 L108.40,47.74 L109.49,47.94 L110.57,48.15 L111.66,48.38 L112.75,48.61 L113.83,48.85 L114.92,49.11 L116.00,49.37 L117.09,49.65 L118.18,49.93 L119.26,50.23 L120.35,50.53 L121.43,50.85 L122.52,51.17 L123.61,51.51 L124.69,51.85 L125.78,52.21 L126.86,52.57 L127.95,52.94 L129.04,53.33 L130.12,53.72 L131.21,54.12 L132.29,54.54 L133.38,54.96 L134.47,55.39 L135.55,55.83 L136.64,56.28 L137.72,56.74 L138.81,57.21 L139.90,57.69 L140.98,58.17 L142.07,58.67 L143.15,59.17 L144.24,59.69 L145.33,60.21 L146.41,60.74 L147.50,61.29 L148.58,61.83 L149.67,62.39 L150.76,62.96 L151.84,63.54 L152.93,64.12 L154.01,64.71 L155.10,65.32 L156.19,65.93 L157.27,66.54 L158.36,67.17 L159.44,67.81 L160.53,68.45 L161.62,69.10 L162.70,69.76 L163.79,70.43 L164.87,71.11 L165.96,71.79 L167.05,72.48 L168.13,73.19 L169.22,73.89 L170.30,74.61 L171.39,75.33 L172.48,76.07 L173.56,76.81 L174.65,77.55 L175.73,78.31 L176.82,79.07 L177.91,79.84 L178.99,80.62 L180.08,81.40 L181.16,82.20 L182.25,83.00 L183.34,83.80 L184.42,84.62 L185.51,85.44 L186.59,86.27 L187.68,87.10 L188.77,87.95 L189.85,88.80 L190.94,89.65 L192.02,90.52 L193.11,91.39 L194.20,92.27 L195.28,93.15 L196.37,94.04 L197.45,94.94 L198.54,95.85 L199.63,96.76 L200.71,97.68 L201.80,98.60 L202.88,99.53 L203.97,100.47 L205.06,101.41 L206.14,102.36 L207.23,103.32 L208.31,104.28 L209.40,105.25 L210.49,106.23 L211.57,107.21 L212.66,108.20 L213.74,109.19 L214.83,110.19 L215.92,111.20 L217.00,112.21 L218.09,113.23 L219.17,114.25 L220.26,115.28 L221.35,116.32 L222.43,117.36 L223.52,118.40 L224.60,119.46 L225.69,120.51 L226.78,121.58 L227.86,122.65 L228.95,123.72 L230.03,124.80 L231.12,125.89 L232.21,126.98 L233.29,128.07 L234.38,129.17 L235.46,130.28 L236.55,131.39 L237.64,132.51 L238.72,133.63 L239.81,134.76 L240.89,135.89 L241.98,137.03 L243.07,138.17 L244.15,139.31 L245.24,140.47 L246.32,141.62 L247.41,142.78 L248.50,143.95 L249.58,145.12 L250.67,146.30 L251.75,147.48 L252.84,148.66 L253.93,149.85 L255.01,151.05 L256.10,152.25 L257.18,153.45 L258.27,154.66 L259.36,155.87 L260.44,157.08 L261.53,158.31 L262.61,159.53 L263.70,160.76 L264.79,161.99 L265.87,163.23 L266.96,164.47 L268.04,165.72 L269.13,166.97 L270.22,168.22 L271.30,169.48 L272.39,170.74 L273.47,172.01 L274.56,173.28 L275.65,174.55 L276.73,175.83 L277.82,177.11 L278.90,178.40 L279.99,179.69 L281.08,180.98 L282.16,182.28 L283.25,183.58 L284.33,184.89 L285.42,186.19 L286.51,187.50 L287.59,188.82 L288.68,190.14 L289.76,191.46 L290.85,192.79 L291.94,194.12 L293.02,195.45 L294.11,196.79 L295.19,198.13 L296.28,199.47 L297.37,200.81 L298.45,202.16 L299.54,203.52 L300.62,204.87 L301.71,206.23 L302.80,207.60 L303.88,208.96 L304.97,210.33 L306.05,211.70 L307.14,213.08 L308.23,214.46 L309.31,215.84 L310.40,217.22 L311.48,218.61 L312.57,220.00 L313.66,221.40 L314.74,222.79 L315.83,224.19 L316.91,225.59 L318.00,227.00" fill="none" stroke="#ffff00" stroke-width="1.65" stroke-linejoin="round"/>
<path d="M46.50,54.92 L47.59,54.45 L48.67,54.00 L49.76,53.56 L50.84,53.13 L51.93,52.72 L53.02,52.32 L54.10,51.93 L55.19,51.55 L56.27,51.19 L57.36,50.84 L58.45,50.50 L59.53,50.17 L60.62,49.86 L61.70,49.56 L62.79,49.27 L63.88,48.99 L64.96,48.73 L66.05,48.47 L67.13,48.23 L68.22,48.01 L69.31,47.79 L70.39,47.59 L71.48,47.39 L72.56,47.21 L73.65,47.05 L74.74,46.89 L75.82,46.75 L76.91,46.62 L77.99,46.50 L79.08,46.39 L80.17,46.29 L81.25,46.20 L82.34,46.13 L83.42,46.07 L84.51,46.02 L85.60,45.98 L86.68,45.95 L87.77,45.94 L88.85,45.93 L89.94,45.94 L91.03,45.96 L92.11,45.98 L93.20,46.02 L94.28,46.08 L95.37,46.14 L96.46,46.21 L97.54,46.30 L98.63,46.39 L99.71,46.50 L100.80,46.62 L101.89,46.74 L102.97,46.88 L104.06,47.03 L105.14,47.19 L106.23,47.36 L107.32,47.54 L108.40,47.74 L109.49,47.94 L110.57,48.15 L111.66,48.38 L112.75,48.61 L113.83,48.85 L114.92,49.11 L116.00,49.37 L117.09,49.65 L118.18,49.93 L119.26,50.23 L120.35,50.53 L121.43,50.85 L122.52,51.17 L123.61,51.51 L124.69,51.85 L125.78,52.21 L126.86,52.57 L127.95,52.94 L129.04,53.33 L130.12,53.72 L131.21,54.12 L132.29,54.54 L133.38,54.96 L134.47,55.39 L135.55,55.83 L136.64,56.28 L137.72,56.74 L138.81,57.21 L139.90,57.69 L140.98,58.17 L142.07,58.67 L143.15,59.17 L144.24,59.69 L145.33,60.21 L146.41,60.74 L147.50,61.29 L148.58,61.83 L149.67,62.39 L150.76,62.96 L151.84,63.54 L152.93,64.12 L154.01,64.71 L155.10,65.32 L156.19,65.93 L157.27,66.54 L158.36,67.17 L159.44,67.81 L160.53,68.45 L161.62,69.10 L162.70,69.76 L163.79,70.43 L164.87,71.11 L165.96,71.79 L167.05,72.48 L168.13,73.19 L169.22,73.89 L170.30,74.61 L171.39,75.33 L172.48,76.07 L173.56,76.81 L174.65,77.55 L175.73,78.31 L176.82,79.07 L177.91,79.84 L178.99,80.62 L180.08,81.40 L181.16,82.20 L182.25,83.00 L183.34,83.80 L184.42,84.62 L185.51,85.44 L186.59,86.27 L187.68,87.10 L188.77,87.95 L189.85,88.80 L190.94,89.65 L192.02,90.52 L193.11,91.39 L194.20,92.27 L195.28,93.15 L196.37,94.04 L197.45,94.94 L198.54,95.85 L199.63,96.76 L200.71,97.68 L201.80,98.60 L202.88,99.53 L203.97,100.47 L205.06,101.41 L206.14,102.36 L207.23,103.32 L208.31,104.28 L209.40,105.25 L210.49,106.23 L211.57,107.21 L212.66,108.20 L213.74,109.19 L214.83,110.19 L215.92,111.20 L217.00,112.21 L218.09,113.23 L219.17,114.25 L220.26,115.28 L221.35,116.32 L222.43,117.36 L223.52,118.40 L224.60,119.46 L225.69,120.51 L226.78,121.58 L227.86,122.65 L228.95,123.72 L230.03,124.80 L231.12,125.89 L232.21,126.98 L233.29,128.07 L234.38,129.17 L235.46,130.28 L236.55,131.39 L237.64,132.51 L238.72,133.63 L239.81,134.76 L240.89,135.89 L241.98,137.03 L243.07,138.17 L244.15,139.31 L245.24,140.47 L246.32,141.62 L247.41,142.78 L248.50,143.95 L249.58,145.12 L250.67,146.30 L251.75,147.48 L252.84,148.66 L253.93,149.85 L255.01,151.05 L256.10,152.25 L257.18,153.45 L258.27,154.66 L259.36,155.87 L260.44,157.08 L261.53,158.31 L262.61,159.53 L263.70,160.76 L264.79,161.99 L265.87,163.23 L266.96,164.47 L268.04,165.72 L269.13,166.97 L270.22,168.22 L271.30,169.48 L272.39,170.74 L273.47,172.01 L274.56,173.28 L275.65,174.55 L276.73,175.83 L277.82,177.11 L278.90,178.40 L279.99,179.69 L281.08,180.98 L282.16,182.28 L283.25,183.58 L284.33,184.89 L285.42,186.19 L286.51,187.50 L287.59,188.82 L288.68,190.14 L289.76,191.46 L290.85,192.79 L291.94,194.12 L293.02,195.45 L294.11,196.79 L295.19,198.13 L296.28,199.47 L297.37,200.81 L298.45,202.16 L299.54,203.52 L300.62,204.87 L301.71,206.23 L302.80,207.60 L303.88,208.96 L304.97,210.33 L306.05,211.70 L307.14,213.08 L308.23,214.46 L309.31,215.84 L310.40,217.22 L311.48,218.61 L312.57,220.00 L313.66,221.40 L314.74,222.79 L315.83,224.19 L316.91,225.59 L318.00,227.00" fill="none" stroke="#ffff00" stroke-width="2.55" stroke-dasharray="10.0 10.0" stroke-dashoffset="-10.0" stroke-linejoin="round"/>
<path d="M46.50,54.92 L47.59,54.45 L48.67,54.00 L49.76,53.56 L50.84,53.13 L51.93,52.72 L53.02,52.32 L54.10,51.93 L55.19,51.55 L56.27,51.19 L57.36,50.84 L58.45,50.50 L59.53,50.17 L60.62,49.86 L61.70,49.56 L62.79,49.27 L63.88,48.99 L64.96,48.73 L66.05,48.47 L67.13,48.23 L68.22,48.01 L69.31,47.79 L70.39,47.59 L71.48,47.39 L72.56,47.21 L73.65,47.05 L74.74,46.89 L75.82,46.75 L76.91,46.62 L77.99,46.50 L79.08,46.39 L80.17,46.29 L81.25,46.20 L82.34,46.13 L83.42,46.07 L84.51,46.02 L85.60,45.98 L86.68,45.95 L87.77,45.94 L88.85,45.93 L89.94,45.94 L91.03,45.96 L92.11,45.98 L93.20,46.02 L94.28,46.08 L95.37,46.14 L96.46,46.21 L97.54,46.30 L98.63,46.39 L99.71,46.50 L100.80,46.62 L101.89,46.74 L102.97,46.88 L104.06,47.03 L105.14,47.19 L106.23,47.36 L107.32,47.54 L108.40,47.74 L109.49,47.94 L110.57,48.15 L111.66,48.38 L112.75,48.61 L113.83,48.85 L114.92,49.11 L116.00,49.37 L117.09,49.65 L118.18,49.93 L119.26,50.23 L120.35,50.53 L121.43,50.85 L122.52,51.17 L123.61,51.51 L124.69,51.85 L125.78,52.21 L126.86,52.57 L127.95,52.94 L129.04,53.33 L130.12,53.72 L131.21,54.12 L132.29,54.54 L133.38,54.96 L134.47,55.39 L135.55,55.83 L136.64,56.28 L137.72,56.74 L138.81,57.21 L139.90,57.69 L140.98,58.17 L142.07,58.67 L143.15,59.17 L144.24,59.69 L145.33,60.21 L146.41,60.74 L147.50,61.29 L148.58,61.83 L149.67,62.39 L150.76,62.96 L151.84,63.54 L152.93,64.12 L154.01,64.71 L155.10,65.32 L156.19,65.93 L157.27,66.54 L158.36,67.17 L159.44,67.81 L160.53,68.45 L161.62,69.10 L162.70,69.76 L163.79,70.43 L164.87,71.11 L165.96,71.79 L167.05,72.48 L168.13,73.19 L169.22,73.89 L170.30,74.61 L171.39,75.33 L172.48,76.07 L173.56,76.81 L174.65,77.55 L175.73,78.31 L176.82,79.07 L177.91,79.84 L178.99,80.62 L180.08,81.40 L181.16,82.20 L182.25,83.00 L183.34,83.80 L184.42,84.62 L185.51,85.44 L186.59,86.27 L187.68,87.10 L188.77,87.95 L189.85,88.80 L190.94,89.65 L192.02,90.52 L193.11,91.39 L194.20,92.27 L195.28,93.15 L196.37,94.04 L197.45,94.94 L198.54,95.85 L199.63,96.76 L200.71,97.68 L201.80,98.60 L202.88,99.53 L203.97,100.47 L205.06,101.41 L206.14,102.36 L207.23,103.32 L208.31,104.28 L209.40,105.25 L210.49,106.23 L211.57,107.21 L212.66,108.20 L213.74,109.19 L214.83,110.19 L215.92,111.20 L217.00,112.21 L218.09,113.23 L219.17,114.25 L220.26,115.28 L221.35,116.32 L222.43,117.36 L223.52,118.40 L224.60,119.46 L225.69,120.51 L226.78,121.58 L227.86,122.65 L228.95,123.72 L230.03,124.80 L231.12,125.89 L232.21,126.98 L233.29,128.07 L234.38,129.17 L235.46,130.28 L236.55,131.39 L237.64,132.51 L238.72,133.63 L239.81,134.76 L240.89,135.89 L241.98,137.03 L243.07,138.17 L244.15,139.31 L245.24,140.47 L246.32,141.62 L247.41,142.78 L248.50,143.95 L249.58,145.12 L250.67,146.30 L251.75,147.48 L252.84,148.66 L253.93,149.85 L255.01,151.05 L256.10,152.25 L257.18,153.45 L258.27,154.66 L259.36,155.87 L260.44,157.08 L261.53,158.31 L262.61,159.53 L263.70,160.76 L264.79,161.99 L265.87,163.23 L266.96,164.47 L268.04,165.72 L269.13,166.97 L270.22,168.22 L271.30,169.48 L272.39,170.74 L273.47,172.01 L274.56,173.28 L275.65,174.55 L276.73,175.83 L277.82,177.11 L278.90,178.40 L279.99,179.69 L281.08,180.98 L282.16,182.28 L283.25,183.58 L284.33,184.89 L285.42,186.19 L286.51,187.50 L287.59,188.82 L288.68,190.14 L289.76,191.46 L290.85,192.79 L291.94,194.12 L293.02,195.45 L294.11,196.79 L295.19,198.13 L296.28,199.47 L297.37,200.81 L298.45,202.16 L299.54,203.52 L300.62,204.87 L301.71,206.23 L302.80,207.60 L303.88,208.96 L304.97,210.33 L306.05,211.70 L307.14,213.08 L308.23,214.46 L309.31,215.84 L310.40,217.22 L311.48,218.61 L312.57,220.00 L313.66,221.40 L314.74,222.79 L315.83,224.19 L316.91,225.59 L318.00,227.00" fill="none" stroke="#000000" stroke-width="2.55" stroke-dasharray="10.0 10.0" stroke-linejoin="round"/>
<rect x="46.5" y="20.5" width="271.5" height="206.5" fill="none" stroke="#262626" stroke-width="0.65"/>
<path d="M46.50,227.0 v-2.9 M46.50,20.5 v2.9 M100.50,227.0 v-2.9 M100.50,20.5 v2.9 M155.00,227.0 v-2.9 M155.00,20.5 v2.9 M209.50,227.0 v-2.9 M209.50,20.5 v2.9 M263.50,227.0 v-2.9 M263.50,20.5 v2.9 M318.00,227.0 v-2.9 M318.00,20.5 v2.9 M46.5,227.00 h2.9 M318.0,227.00 h-2.9 M46.5,192.50 h2.9 M318.0,192.50 h-2.9 M46.5,158.00 h2.9 M318.0,158.00 h-2.9 M46.5,123.50 h2.9 M318.0,123.50 h-2.9 M46.5,89.50 h2.9 M318.0,89.50 h-2.9 M46.5,55.00 h2.9 M318.0,55.00 h-2.9 M46.5,20.50 h2.9 M318.0,20.50 h-2.9" stroke="#262626" stroke-width="0.65" fill="none"/>
<g transform="translate(46.40,243.0) scale(1,1.07)"><text text-anchor="middle" class="tk">0</text></g>
<g transform="translate(100.40,243.0) scale(1,1.07)"><text text-anchor="middle" class="tk">1</text><rect x="-3.89" y="-1.21" width="3.43" height="1.61" fill="#fff"/><rect x="0.86" y="-1.21" width="2.84" height="1.61" fill="#fff"/></g>
<g transform="translate(154.90,243.0) scale(1,1.07)"><text text-anchor="middle" class="tk">2</text></g>
<g transform="translate(209.40,243.0) scale(1,1.07)"><text text-anchor="middle" class="tk">3</text></g>
<g transform="translate(263.40,243.0) scale(1,1.07)"><text text-anchor="middle" class="tk">4</text></g>
<g transform="translate(317.90,243.0) scale(1,1.07)"><text text-anchor="middle" class="tk">5</text></g>
<g transform="translate(42.20,231.65) scale(1,1.07)"><text text-anchor="end" class="tk">0</text></g>
<g transform="translate(42.20,197.15) scale(1,1.07)"><text text-anchor="end" class="tk">0.2</text></g>
<g transform="translate(42.20,162.65) scale(1,1.07)"><text text-anchor="end" class="tk">0.4</text></g>
<g transform="translate(42.20,128.15) scale(1,1.07)"><text text-anchor="end" class="tk">0.6</text></g>
<g transform="translate(42.20,94.15) scale(1,1.07)"><text text-anchor="end" class="tk">0.8</text></g>
<g transform="translate(42.20,59.65) scale(1,1.07)"><text text-anchor="end" class="tk">1</text><rect x="-7.08" y="-1.21" width="3.43" height="1.61" fill="#fff"/><rect x="-2.34" y="-1.21" width="2.84" height="1.61" fill="#fff"/></g>
<g transform="translate(42.20,25.15) scale(1,1.07)"><text text-anchor="end" class="tk">1.2</text><rect x="-16.68" y="-1.21" width="3.43" height="1.61" fill="#fff"/><rect x="-11.93" y="-1.21" width="2.84" height="1.61" fill="#fff"/></g>
<text x="181.50" y="260.4" text-anchor="middle" class="mi" font-size="13">ζ</text>
<text transform="translate(20.80,130.70) rotate(-90)" text-anchor="middle" class="mi" font-size="12.5">ϕ</text>
<text transform="translate(20.80,124.00) rotate(-90)" text-anchor="middle" class="mi mr" font-size="14.0">(</text>
<text transform="translate(21.10,119.25) rotate(-90)" text-anchor="middle" class="mi" font-size="13.0">ζ</text>
<text transform="translate(20.80,113.90) rotate(-90)" text-anchor="middle" class="mi mr" font-size="14.0">)</text>
<rect x="50.5" y="122.5" width="146.5" height="100.0" fill="#fff" stroke="#262626" stroke-width="0.65"/>
<path d="M53.35,129.80 h24.9" stroke="#000000" stroke-width="2.55"/>
<text x="80.70" y="133.80" class="lg">Reference solution: </text>
<text x="162.05" y="133.80" class="mi sy">α</text>
<text x="171.00" y="133.80" class="lg">= 0.7</text>
<path d="M53.35,141.93 h24.9" stroke="#ff00ff" stroke-width="2.55" stroke-dasharray="10 10"/>
<text x="80.70" y="145.93" class="lg"><tspan letter-spacing="0.015">MWNNs-PSO-NNA: </tspan></text>
<text x="164.80" y="145.93" class="mi sy">α</text>
<text x="173.80" y="145.93" class="lg">= 0.7</text>
<path d="M53.35,154.06 h24.9" stroke="#0000ff" stroke-width="2.55"/>
<text x="80.70" y="158.06" class="lg">Reference solution: </text>
<text x="162.05" y="158.06" class="mi sy">α</text>
<text x="171.00" y="158.06" class="lg">= 0.8</text>
<path d="M53.35,166.19 h24.9" stroke="#00ffff" stroke-width="2.55" stroke-dasharray="10 10"/>
<text x="80.70" y="170.19" class="lg"><tspan letter-spacing="0.015">MWNNs-PSO-NNA: </tspan></text>
<text x="164.80" y="170.19" class="mi sy">α</text>
<text x="173.80" y="170.19" class="lg">= 0.8</text>
<path d="M53.35,178.32 h24.9" stroke="#ff0000" stroke-width="2.55"/>
<text x="80.70" y="182.32" class="lg">Reference solution: </text>
<text x="162.05" y="182.32" class="mi sy">α</text>
<text x="171.00" y="182.32" class="lg">= 0.9</text>
<path d="M53.35,190.45 h24.9" stroke="#00ff00" stroke-width="2.55" stroke-dasharray="10 10"/>
<text x="80.70" y="194.45" class="lg"><tspan letter-spacing="0.015">MWNNs-PSO-NNA: </tspan></text>
<text x="164.80" y="194.45" class="mi sy">α</text>
<text x="173.80" y="194.45" class="lg">= 0.9</text>
<path d="M53.35,202.58 h24.9" stroke="#ffff00" stroke-width="2.55"/>
<text x="80.70" y="206.58" class="lg">Reference solution: </text>
<text x="162.05" y="206.58" class="mi sy">α</text>
<text x="171.00" y="206.58" class="lg">= 1.0</text>
<g transform="translate(178.83,206.58)"><rect x="-0.55" y="-1.38" width="2.68" height="2.13" fill="#fff"/><rect x="3.24" y="-1.38" width="2.22" height="2.13" fill="#fff"/></g>
<path d="M53.35,214.71 h24.9" stroke="#000000" stroke-width="2.55" stroke-dasharray="10 10"/>
<text x="80.70" y="218.71" class="lg"><tspan letter-spacing="0.015">MWNNs-PSO-NNA: </tspan></text>
<text x="164.80" y="218.71" class="mi sy">α</text>
<text x="173.80" y="218.71" class="lg">= 1.0</text>
<g transform="translate(181.63,218.71)"><rect x="-0.55" y="-1.38" width="2.68" height="2.13" fill="#fff"/><rect x="3.24" y="-1.38" width="2.22" height="2.13" fill="#fff"/></g>
</g>
<g>
<path d="M388.50,54.92 L389.59,54.05 L390.67,53.20 L391.76,52.36 L392.84,51.54 L393.93,50.73 L395.02,49.93 L396.10,49.15 L397.19,48.39 L398.27,47.64 L399.36,46.90 L400.45,46.18 L401.53,45.48 L402.62,44.79 L403.70,44.11 L404.79,43.46 L405.88,42.81 L406.96,42.18 L408.05,41.57 L409.13,40.97 L410.22,40.39 L411.31,39.82 L412.39,39.27 L413.48,38.74 L414.56,38.22 L415.65,37.71 L416.74,37.22 L417.82,36.75 L418.91,36.29 L419.99,35.85 L421.08,35.42 L422.17,35.01 L423.25,34.62 L424.34,34.24 L425.42,33.88 L426.51,33.53 L427.60,33.19 L428.68,32.88 L429.77,32.57 L430.85,32.29 L431.94,32.02 L433.03,31.76 L434.11,31.52 L435.20,31.30 L436.28,31.09 L437.37,30.89 L438.46,30.71 L439.54,30.55 L440.63,30.40 L441.71,30.27 L442.80,30.15 L443.89,30.04 L444.97,29.96 L446.06,29.88 L447.14,29.82 L448.23,29.78 L449.32,29.75 L450.40,29.73 L451.49,29.73 L452.57,29.75 L453.66,29.78 L454.75,29.82 L455.83,29.87 L456.92,29.95 L458.00,30.03 L459.09,30.13 L460.18,30.24 L461.26,30.37 L462.35,30.51 L463.43,30.66 L464.52,30.83 L465.61,31.01 L466.69,31.21 L467.78,31.42 L468.86,31.64 L469.95,31.87 L471.04,32.12 L472.12,32.38 L473.21,32.66 L474.29,32.94 L475.38,33.24 L476.47,33.55 L477.55,33.88 L478.64,34.22 L479.72,34.56 L480.81,34.93 L481.90,35.30 L482.98,35.68 L484.07,36.08 L485.15,36.49 L486.24,36.91 L487.33,37.35 L488.41,37.79 L489.50,38.25 L490.58,38.71 L491.67,39.19 L492.76,39.68 L493.84,40.18 L494.93,40.69 L496.01,41.21 L497.10,41.75 L498.19,42.29 L499.27,42.85 L500.36,43.41 L501.44,43.99 L502.53,44.57 L503.62,45.17 L504.70,45.77 L505.79,46.39 L506.87,47.02 L507.96,47.65 L509.05,48.30 L510.13,48.95 L511.22,49.62 L512.30,50.29 L513.39,50.97 L514.48,51.67 L515.56,52.37 L516.65,53.08 L517.73,53.80 L518.82,54.53 L519.91,55.27 L520.99,56.01 L522.08,56.77 L523.16,57.53 L524.25,58.31 L525.34,59.09 L526.42,59.88 L527.51,60.68 L528.59,61.48 L529.68,62.30 L530.77,63.12 L531.85,63.95 L532.94,64.79 L534.02,65.64 L535.11,66.49 L536.20,67.36 L537.28,68.23 L538.37,69.10 L539.45,69.99 L540.54,70.88 L541.63,71.79 L542.71,72.70 L543.80,73.61 L544.88,74.54 L545.97,75.47 L547.06,76.41 L548.14,77.35 L549.23,78.31 L550.31,79.27 L551.40,80.24 L552.49,81.21 L553.57,82.20 L554.66,83.19 L555.74,84.19 L556.83,85.19 L557.92,86.20 L559.00,87.22 L560.09,88.25 L561.17,89.29 L562.26,90.33 L563.35,91.38 L564.43,92.43 L565.52,93.50 L566.60,94.57 L567.69,95.65 L568.78,96.73 L569.86,97.83 L570.95,98.93 L572.03,100.03 L573.12,101.15 L574.21,102.27 L575.29,103.41 L576.38,104.54 L577.46,105.69 L578.55,106.85 L579.64,108.01 L580.72,109.18 L581.81,110.36 L582.89,111.54 L583.98,112.74 L585.07,113.94 L586.15,115.15 L587.24,116.37 L588.32,117.60 L589.41,118.84 L590.50,120.09 L591.58,121.34 L592.67,122.61 L593.75,123.88 L594.84,125.16 L595.93,126.45 L597.01,127.76 L598.10,129.07 L599.18,130.39 L600.27,131.72 L601.36,133.06 L602.44,134.41 L603.53,135.77 L604.61,137.15 L605.70,138.53 L606.79,139.92 L607.87,141.33 L608.96,142.75 L610.04,144.18 L611.13,145.62 L612.22,147.07 L613.30,148.53 L614.39,150.01 L615.47,151.50 L616.56,153.00 L617.65,154.52 L618.73,156.04 L619.82,157.59 L620.90,159.14 L621.99,160.71 L623.08,162.30 L624.16,163.90 L625.25,165.51 L626.33,167.14 L627.42,168.78 L628.51,170.45 L629.59,172.12 L630.68,173.81 L631.76,175.52 L632.85,177.25 L633.94,178.99 L635.02,180.76 L636.11,182.53 L637.19,184.33 L638.28,186.15 L639.37,187.98 L640.45,189.84 L641.54,191.71 L642.62,193.61 L643.71,195.52 L644.80,197.46 L645.88,199.42 L646.97,201.40 L648.05,203.40 L649.14,205.42 L650.23,207.47 L651.31,209.54 L652.40,211.63 L653.48,213.75 L654.57,215.90 L655.66,218.06 L656.74,220.26 L657.83,222.48 L658.91,224.73 L660.00,227.00" fill="none" stroke="#000000" stroke-width="1.65" stroke-linejoin="round"/>
<path d="M388.50,54.92 L389.59,54.05 L390.67,53.20 L391.76,52.36 L392.84,51.54 L393.93,50.73 L395.02,49.93 L396.10,49.15 L397.19,48.39 L398.27,47.64 L399.36,46.90 L400.45,46.18 L401.53,45.48 L402.62,44.79 L403.70,44.11 L404.79,43.46 L405.88,42.81 L406.96,42.18 L408.05,41.57 L409.13,40.97 L410.22,40.39 L411.31,39.82 L412.39,39.27 L413.48,38.74 L414.56,38.22 L415.65,37.71 L416.74,37.22 L417.82,36.75 L418.91,36.29 L419.99,35.85 L421.08,35.42 L422.17,35.01 L423.25,34.62 L424.34,34.24 L425.42,33.88 L426.51,33.53 L427.60,33.19 L428.68,32.88 L429.77,32.57 L430.85,32.29 L431.94,32.02 L433.03,31.76 L434.11,31.52 L435.20,31.30 L436.28,31.09 L437.37,30.89 L438.46,30.71 L439.54,30.55 L440.63,30.40 L441.71,30.27 L442.80,30.15 L443.89,30.04 L444.97,29.96 L446.06,29.88 L447.14,29.82 L448.23,29.78 L449.32,29.75 L450.40,29.73 L451.49,29.73 L452.57,29.75 L453.66,29.78 L454.75,29.82 L455.83,29.87 L456.92,29.95 L458.00,30.03 L459.09,30.13 L460.18,30.24 L461.26,30.37 L462.35,30.51 L463.43,30.66 L464.52,30.83 L465.61,31.01 L466.69,31.21 L467.78,31.42 L468.86,31.64 L469.95,31.87 L471.04,32.12 L472.12,32.38 L473.21,32.66 L474.29,32.94 L475.38,33.24 L476.47,33.55 L477.55,33.88 L478.64,34.22 L479.72,34.56 L480.81,34.93 L481.90,35.30 L482.98,35.68 L484.07,36.08 L485.15,36.49 L486.24,36.91 L487.33,37.35 L488.41,37.79 L489.50,38.25 L490.58,38.71 L491.67,39.19 L492.76,39.68 L493.84,40.18 L494.93,40.69 L496.01,41.21 L497.10,41.75 L498.19,42.29 L499.27,42.85 L500.36,43.41 L501.44,43.99 L502.53,44.57 L503.62,45.17 L504.70,45.77 L505.79,46.39 L506.87,47.02 L507.96,47.65 L509.05,48.30 L510.13,48.95 L511.22,49.62 L512.30,50.29 L513.39,50.97 L514.48,51.67 L515.56,52.37 L516.65,53.08 L517.73,53.80 L518.82,54.53 L519.91,55.27 L520.99,56.01 L522.08,56.77 L523.16,57.53 L524.25,58.31 L525.34,59.09 L526.42,59.88 L527.51,60.68 L528.59,61.48 L529.68,62.30 L530.77,63.12 L531.85,63.95 L532.94,64.79 L534.02,65.64 L535.11,66.49 L536.20,67.36 L537.28,68.23 L538.37,69.10 L539.45,69.99 L540.54,70.88 L541.63,71.79 L542.71,72.70 L543.80,73.61 L544.88,74.54 L545.97,75.47 L547.06,76.41 L548.14,77.35 L549.23,78.31 L550.31,79.27 L551.40,80.24 L552.49,81.21 L553.57,82.20 L554.66,83.19 L555.74,84.19 L556.83,85.19 L557.92,86.20 L559.00,87.22 L560.09,88.25 L561.17,89.29 L562.26,90.33 L563.35,91.38 L564.43,92.43 L565.52,93.50 L566.60,94.57 L567.69,95.65 L568.78,96.73 L569.86,97.83 L570.95,98.93 L572.03,100.03 L573.12,101.15 L574.21,102.27 L575.29,103.41 L576.38,104.54 L577.46,105.69 L578.55,106.85 L579.64,108.01 L580.72,109.18 L581.81,110.36 L582.89,111.54 L583.98,112.74 L585.07,113.94 L586.15,115.15 L587.24,116.37 L588.32,117.60 L589.41,118.84 L590.50,120.09 L591.58,121.34 L592.67,122.61 L593.75,123.88 L594.84,125.16 L595.93,126.45 L597.01,127.76 L598.10,129.07 L599.18,130.39 L600.27,131.72 L601.36,133.06 L602.44,134.41 L603.53,135.77 L604.61,137.15 L605.70,138.53 L606.79,139.92 L607.87,141.33 L608.96,142.75 L610.04,144.18 L611.13,145.62 L612.22,147.07 L613.30,148.53 L614.39,150.01 L615.47,151.50 L616.56,153.00 L617.65,154.52 L618.73,156.04 L619.82,157.59 L620.90,159.14 L621.99,160.71 L623.08,162.30 L624.16,163.90 L625.25,165.51 L626.33,167.14 L627.42,168.78 L628.51,170.45 L629.59,172.12 L630.68,173.81 L631.76,175.52 L632.85,177.25 L633.94,178.99 L635.02,180.76 L636.11,182.53 L637.19,184.33 L638.28,186.15 L639.37,187.98 L640.45,189.84 L641.54,191.71 L642.62,193.61 L643.71,195.52 L644.80,197.46 L645.88,199.42 L646.97,201.40 L648.05,203.40 L649.14,205.42 L650.23,207.47 L651.31,209.54 L652.40,211.63 L653.48,213.75 L654.57,215.90 L655.66,218.06 L656.74,220.26 L657.83,222.48 L658.91,224.73 L660.00,227.00" fill="none" stroke="#000000" stroke-width="2.55" stroke-dasharray="10.0 10.0" stroke-dashoffset="-10.0" stroke-linejoin="round"/>
<path d="M388.50,54.92 L389.59,54.05 L390.67,53.20 L391.76,52.36 L392.84,51.54 L393.93,50.73 L395.02,49.93 L396.10,49.15 L397.19,48.39 L398.27,47.64 L399.36,46.90 L400.45,46.18 L401.53,45.48 L402.62,44.79 L403.70,44.11 L404.79,43.46 L405.88,42.81 L406.96,42.18 L408.05,41.57 L409.13,40.97 L410.22,40.39 L411.31,39.82 L412.39,39.27 L413.48,38.74 L414.56,38.22 L415.65,37.71 L416.74,37.22 L417.82,36.75 L418.91,36.29 L419.99,35.85 L421.08,35.42 L422.17,35.01 L423.25,34.62 L424.34,34.24 L425.42,33.88 L426.51,33.53 L427.60,33.19 L428.68,32.88 L429.77,32.57 L430.85,32.29 L431.94,32.02 L433.03,31.76 L434.11,31.52 L435.20,31.30 L436.28,31.09 L437.37,30.89 L438.46,30.71 L439.54,30.55 L440.63,30.40 L441.71,30.27 L442.80,30.15 L443.89,30.04 L444.97,29.96 L446.06,29.88 L447.14,29.82 L448.23,29.78 L449.32,29.75 L450.40,29.73 L451.49,29.73 L452.57,29.75 L453.66,29.78 L454.75,29.82 L455.83,29.87 L456.92,29.95 L458.00,30.03 L459.09,30.13 L460.18,30.24 L461.26,30.37 L462.35,30.51 L463.43,30.66 L464.52,30.83 L465.61,31.01 L466.69,31.21 L467.78,31.42 L468.86,31.64 L469.95,31.87 L471.04,32.12 L472.12,32.38 L473.21,32.66 L474.29,32.94 L475.38,33.24 L476.47,33.55 L477.55,33.88 L478.64,34.22 L479.72,34.56 L480.81,34.93 L481.90,35.30 L482.98,35.68 L484.07,36.08 L485.15,36.49 L486.24,36.91 L487.33,37.35 L488.41,37.79 L489.50,38.25 L490.58,38.71 L491.67,39.19 L492.76,39.68 L493.84,40.18 L494.93,40.69 L496.01,41.21 L497.10,41.75 L498.19,42.29 L499.27,42.85 L500.36,43.41 L501.44,43.99 L502.53,44.57 L503.62,45.17 L504.70,45.77 L505.79,46.39 L506.87,47.02 L507.96,47.65 L509.05,48.30 L510.13,48.95 L511.22,49.62 L512.30,50.29 L513.39,50.97 L514.48,51.67 L515.56,52.37 L516.65,53.08 L517.73,53.80 L518.82,54.53 L519.91,55.27 L520.99,56.01 L522.08,56.77 L523.16,57.53 L524.25,58.31 L525.34,59.09 L526.42,59.88 L527.51,60.68 L528.59,61.48 L529.68,62.30 L530.77,63.12 L531.85,63.95 L532.94,64.79 L534.02,65.64 L535.11,66.49 L536.20,67.36 L537.28,68.23 L538.37,69.10 L539.45,69.99 L540.54,70.88 L541.63,71.79 L542.71,72.70 L543.80,73.61 L544.88,74.54 L545.97,75.47 L547.06,76.41 L548.14,77.35 L549.23,78.31 L550.31,79.27 L551.40,80.24 L552.49,81.21 L553.57,82.20 L554.66,83.19 L555.74,84.19 L556.83,85.19 L557.92,86.20 L559.00,87.22 L560.09,88.25 L561.17,89.29 L562.26,90.33 L563.35,91.38 L564.43,92.43 L565.52,93.50 L566.60,94.57 L567.69,95.65 L568.78,96.73 L569.86,97.83 L570.95,98.93 L572.03,100.03 L573.12,101.15 L574.21,102.27 L575.29,103.41 L576.38,104.54 L577.46,105.69 L578.55,106.85 L579.64,108.01 L580.72,109.18 L581.81,110.36 L582.89,111.54 L583.98,112.74 L585.07,113.94 L586.15,115.15 L587.24,116.37 L588.32,117.60 L589.41,118.84 L590.50,120.09 L591.58,121.34 L592.67,122.61 L593.75,123.88 L594.84,125.16 L595.93,126.45 L597.01,127.76 L598.10,129.07 L599.18,130.39 L600.27,131.72 L601.36,133.06 L602.44,134.41 L603.53,135.77 L604.61,137.15 L605.70,138.53 L606.79,139.92 L607.87,141.33 L608.96,142.75 L610.04,144.18 L611.13,145.62 L612.22,147.07 L613.30,148.53 L614.39,150.01 L615.47,151.50 L616.56,153.00 L617.65,154.52 L618.73,156.04 L619.82,157.59 L620.90,159.14 L621.99,160.71 L623.08,162.30 L624.16,163.90 L625.25,165.51 L626.33,167.14 L627.42,168.78 L628.51,170.45 L629.59,172.12 L630.68,173.81 L631.76,175.52 L632.85,177.25 L633.94,178.99 L635.02,180.76 L636.11,182.53 L637.19,184.33 L638.28,186.15 L639.37,187.98 L640.45,189.84 L641.54,191.71 L642.62,193.61 L643.71,195.52 L644.80,197.46 L645.88,199.42 L646.97,201.40 L648.05,203.40 L649.14,205.42 L650.23,207.47 L651.31,209.54 L652.40,211.63 L653.48,213.75 L654.57,215.90 L655.66,218.06 L656.74,220.26 L657.83,222.48 L658.91,224.73 L660.00,227.00" fill="none" stroke="#ff00ff" stroke-width="2.55" stroke-dasharray="10.0 10.0" stroke-linejoin="round"/>
<path d="M388.50,54.92 L389.59,54.17 L390.67,53.44 L391.76,52.72 L392.84,52.01 L393.93,51.31 L395.02,50.63 L396.10,49.95 L397.19,49.29 L398.27,48.64 L399.36,48.01 L400.45,47.38 L401.53,46.77 L402.62,46.18 L403.70,45.59 L404.79,45.02 L405.88,44.46 L406.96,43.92 L408.05,43.39 L409.13,42.87 L410.22,42.36 L411.31,41.87 L412.39,41.40 L413.48,40.93 L414.56,40.48 L415.65,40.05 L416.74,39.62 L417.82,39.22 L418.91,38.82 L419.99,38.44 L421.08,38.08 L422.17,37.73 L423.25,37.39 L424.34,37.07 L425.42,36.76 L426.51,36.46 L427.60,36.18 L428.68,35.91 L429.77,35.66 L430.85,35.43 L431.94,35.20 L433.03,34.99 L434.11,34.80 L435.20,34.62 L436.28,34.45 L437.37,34.30 L438.46,34.16 L439.54,34.04 L440.63,33.93 L441.71,33.84 L442.80,33.76 L443.89,33.69 L444.97,33.64 L446.06,33.60 L447.14,33.58 L448.23,33.57 L449.32,33.57 L450.40,33.59 L451.49,33.62 L452.57,33.67 L453.66,33.73 L454.75,33.80 L455.83,33.89 L456.92,33.99 L458.00,34.11 L459.09,34.24 L460.18,34.38 L461.26,34.53 L462.35,34.70 L463.43,34.89 L464.52,35.08 L465.61,35.29 L466.69,35.52 L467.78,35.75 L468.86,36.00 L469.95,36.26 L471.04,36.54 L472.12,36.83 L473.21,37.13 L474.29,37.44 L475.38,37.77 L476.47,38.11 L477.55,38.46 L478.64,38.82 L479.72,39.20 L480.81,39.59 L481.90,39.99 L482.98,40.40 L484.07,40.82 L485.15,41.26 L486.24,41.71 L487.33,42.17 L488.41,42.64 L489.50,43.12 L490.58,43.62 L491.67,44.13 L492.76,44.64 L493.84,45.17 L494.93,45.71 L496.01,46.26 L497.10,46.83 L498.19,47.40 L499.27,47.98 L500.36,48.58 L501.44,49.18 L502.53,49.80 L503.62,50.42 L504.70,51.06 L505.79,51.71 L506.87,52.36 L507.96,53.03 L509.05,53.71 L510.13,54.39 L511.22,55.09 L512.30,55.80 L513.39,56.51 L514.48,57.24 L515.56,57.97 L516.65,58.71 L517.73,59.47 L518.82,60.23 L519.91,61.00 L520.99,61.78 L522.08,62.57 L523.16,63.37 L524.25,64.17 L525.34,64.99 L526.42,65.81 L527.51,66.65 L528.59,67.49 L529.68,68.34 L530.77,69.19 L531.85,70.06 L532.94,70.93 L534.02,71.81 L535.11,72.70 L536.20,73.60 L537.28,74.51 L538.37,75.42 L539.45,76.34 L540.54,77.27 L541.63,78.20 L542.71,79.15 L543.80,80.10 L544.88,81.06 L545.97,82.02 L547.06,82.99 L548.14,83.97 L549.23,84.96 L550.31,85.95 L551.40,86.96 L552.49,87.96 L553.57,88.98 L554.66,90.00 L555.74,91.03 L556.83,92.06 L557.92,93.11 L559.00,94.16 L560.09,95.21 L561.17,96.27 L562.26,97.34 L563.35,98.42 L564.43,99.50 L565.52,100.59 L566.60,101.69 L567.69,102.79 L568.78,103.90 L569.86,105.01 L570.95,106.13 L572.03,107.26 L573.12,108.40 L574.21,109.54 L575.29,110.69 L576.38,111.84 L577.46,113.00 L578.55,114.17 L579.64,115.34 L580.72,116.53 L581.81,117.71 L582.89,118.91 L583.98,120.11 L585.07,121.32 L586.15,122.53 L587.24,123.75 L588.32,124.98 L589.41,126.22 L590.50,127.46 L591.58,128.71 L592.67,129.96 L593.75,131.23 L594.84,132.50 L595.93,133.77 L597.01,135.06 L598.10,136.35 L599.18,137.65 L600.27,138.96 L601.36,140.28 L602.44,141.60 L603.53,142.93 L604.61,144.27 L605.70,145.62 L606.79,146.97 L607.87,148.34 L608.96,149.71 L610.04,151.09 L611.13,152.48 L612.22,153.88 L613.30,155.28 L614.39,156.70 L615.47,158.12 L616.56,159.56 L617.65,161.00 L618.73,162.46 L619.82,163.92 L620.90,165.39 L621.99,166.88 L623.08,168.37 L624.16,169.88 L625.25,171.39 L626.33,172.92 L627.42,174.46 L628.51,176.01 L629.59,177.57 L630.68,179.14 L631.76,180.73 L632.85,182.32 L633.94,183.93 L635.02,185.56 L636.11,187.19 L637.19,188.84 L638.28,190.50 L639.37,192.18 L640.45,193.87 L641.54,195.57 L642.62,197.29 L643.71,199.02 L644.80,200.77 L645.88,202.53 L646.97,204.31 L648.05,206.11 L649.14,207.92 L650.23,209.75 L651.31,211.59 L652.40,213.45 L653.48,215.33 L654.57,217.23 L655.66,219.15 L656.74,221.08 L657.83,223.03 L658.91,225.01 L660.00,227.00" fill="none" stroke="#0000ff" stroke-width="1.65" stroke-linejoin="round"/>
<path d="M388.50,54.92 L389.59,54.17 L390.67,53.44 L391.76,52.72 L392.84,52.01 L393.93,51.31 L395.02,50.63 L396.10,49.95 L397.19,49.29 L398.27,48.64 L399.36,48.01 L400.45,47.38 L401.53,46.77 L402.62,46.18 L403.70,45.59 L404.79,45.02 L405.88,44.46 L406.96,43.92 L408.05,43.39 L409.13,42.87 L410.22,42.36 L411.31,41.87 L412.39,41.40 L413.48,40.93 L414.56,40.48 L415.65,40.05 L416.74,39.62 L417.82,39.22 L418.91,38.82 L419.99,38.44 L421.08,38.08 L422.17,37.73 L423.25,37.39 L424.34,37.07 L425.42,36.76 L426.51,36.46 L427.60,36.18 L428.68,35.91 L429.77,35.66 L430.85,35.43 L431.94,35.20 L433.03,34.99 L434.11,34.80 L435.20,34.62 L436.28,34.45 L437.37,34.30 L438.46,34.16 L439.54,34.04 L440.63,33.93 L441.71,33.84 L442.80,33.76 L443.89,33.69 L444.97,33.64 L446.06,33.60 L447.14,33.58 L448.23,33.57 L449.32,33.57 L450.40,33.59 L451.49,33.62 L452.57,33.67 L453.66,33.73 L454.75,33.80 L455.83,33.89 L456.92,33.99 L458.00,34.11 L459.09,34.24 L460.18,34.38 L461.26,34.53 L462.35,34.70 L463.43,34.89 L464.52,35.08 L465.61,35.29 L466.69,35.52 L467.78,35.75 L468.86,36.00 L469.95,36.26 L471.04,36.54 L472.12,36.83 L473.21,37.13 L474.29,37.44 L475.38,37.77 L476.47,38.11 L477.55,38.46 L478.64,38.82 L479.72,39.20 L480.81,39.59 L481.90,39.99 L482.98,40.40 L484.07,40.82 L485.15,41.26 L486.24,41.71 L487.33,42.17 L488.41,42.64 L489.50,43.12 L490.58,43.62 L491.67,44.13 L492.76,44.64 L493.84,45.17 L494.93,45.71 L496.01,46.26 L497.10,46.83 L498.19,47.40 L499.27,47.98 L500.36,48.58 L501.44,49.18 L502.53,49.80 L503.62,50.42 L504.70,51.06 L505.79,51.71 L506.87,52.36 L507.96,53.03 L509.05,53.71 L510.13,54.39 L511.22,55.09 L512.30,55.80 L513.39,56.51 L514.48,57.24 L515.56,57.97 L516.65,58.71 L517.73,59.47 L518.82,60.23 L519.91,61.00 L520.99,61.78 L522.08,62.57 L523.16,63.37 L524.25,64.17 L525.34,64.99 L526.42,65.81 L527.51,66.65 L528.59,67.49 L529.68,68.34 L530.77,69.19 L531.85,70.06 L532.94,70.93 L534.02,71.81 L535.11,72.70 L536.20,73.60 L537.28,74.51 L538.37,75.42 L539.45,76.34 L540.54,77.27 L541.63,78.20 L542.71,79.15 L543.80,80.10 L544.88,81.06 L545.97,82.02 L547.06,82.99 L548.14,83.97 L549.23,84.96 L550.31,85.95 L551.40,86.96 L552.49,87.96 L553.57,88.98 L554.66,90.00 L555.74,91.03 L556.83,92.06 L557.92,93.11 L559.00,94.16 L560.09,95.21 L561.17,96.27 L562.26,97.34 L563.35,98.42 L564.43,99.50 L565.52,100.59 L566.60,101.69 L567.69,102.79 L568.78,103.90 L569.86,105.01 L570.95,106.13 L572.03,107.26 L573.12,108.40 L574.21,109.54 L575.29,110.69 L576.38,111.84 L577.46,113.00 L578.55,114.17 L579.64,115.34 L580.72,116.53 L581.81,117.71 L582.89,118.91 L583.98,120.11 L585.07,121.32 L586.15,122.53 L587.24,123.75 L588.32,124.98 L589.41,126.22 L590.50,127.46 L591.58,128.71 L592.67,129.96 L593.75,131.23 L594.84,132.50 L595.93,133.77 L597.01,135.06 L598.10,136.35 L599.18,137.65 L600.27,138.96 L601.36,140.28 L602.44,141.60 L603.53,142.93 L604.61,144.27 L605.70,145.62 L606.79,146.97 L607.87,148.34 L608.96,149.71 L610.04,151.09 L611.13,152.48 L612.22,153.88 L613.30,155.28 L614.39,156.70 L615.47,158.12 L616.56,159.56 L617.65,161.00 L618.73,162.46 L619.82,163.92 L620.90,165.39 L621.99,166.88 L623.08,168.37 L624.16,169.88 L625.25,171.39 L626.33,172.92 L627.42,174.46 L628.51,176.01 L629.59,177.57 L630.68,179.14 L631.76,180.73 L632.85,182.32 L633.94,183.93 L635.02,185.56 L636.11,187.19 L637.19,188.84 L638.28,190.50 L639.37,192.18 L640.45,193.87 L641.54,195.57 L642.62,197.29 L643.71,199.02 L644.80,200.77 L645.88,202.53 L646.97,204.31 L648.05,206.11 L649.14,207.92 L650.23,209.75 L651.31,211.59 L652.40,213.45 L653.48,215.33 L654.57,217.23 L655.66,219.15 L656.74,221.08 L657.83,223.03 L658.91,225.01 L660.00,227.00" fill="none" stroke="#0000ff" stroke-width="2.55" stroke-dasharray="10.0 10.0" stroke-dashoffset="-10.0" stroke-linejoin="round"/>
<path d="M388.50,54.92 L389.59,54.17 L390.67,53.44 L391.76,52.72 L392.84,52.01 L393.93,51.31 L395.02,50.63 L396.10,49.95 L397.19,49.29 L398.27,48.64 L399.36,48.01 L400.45,47.38 L401.53,46.77 L402.62,46.18 L403.70,45.59 L404.79,45.02 L405.88,44.46 L406.96,43.92 L408.05,43.39 L409.13,42.87 L410.22,42.36 L411.31,41.87 L412.39,41.40 L413.48,40.93 L414.56,40.48 L415.65,40.05 L416.74,39.62 L417.82,39.22 L418.91,38.82 L419.99,38.44 L421.08,38.08 L422.17,37.73 L423.25,37.39 L424.34,37.07 L425.42,36.76 L426.51,36.46 L427.60,36.18 L428.68,35.91 L429.77,35.66 L430.85,35.43 L431.94,35.20 L433.03,34.99 L434.11,34.80 L435.20,34.62 L436.28,34.45 L437.37,34.30 L438.46,34.16 L439.54,34.04 L440.63,33.93 L441.71,33.84 L442.80,33.76 L443.89,33.69 L444.97,33.64 L446.06,33.60 L447.14,33.58 L448.23,33.57 L449.32,33.57 L450.40,33.59 L451.49,33.62 L452.57,33.67 L453.66,33.73 L454.75,33.80 L455.83,33.89 L456.92,33.99 L458.00,34.11 L459.09,34.24 L460.18,34.38 L461.26,34.53 L462.35,34.70 L463.43,34.89 L464.52,35.08 L465.61,35.29 L466.69,35.52 L467.78,35.75 L468.86,36.00 L469.95,36.26 L471.04,36.54 L472.12,36.83 L473.21,37.13 L474.29,37.44 L475.38,37.77 L476.47,38.11 L477.55,38.46 L478.64,38.82 L479.72,39.20 L480.81,39.59 L481.90,39.99 L482.98,40.40 L484.07,40.82 L485.15,41.26 L486.24,41.71 L487.33,42.17 L488.41,42.64 L489.50,43.12 L490.58,43.62 L491.67,44.13 L492.76,44.64 L493.84,45.17 L494.93,45.71 L496.01,46.26 L497.10,46.83 L498.19,47.40 L499.27,47.98 L500.36,48.58 L501.44,49.18 L502.53,49.80 L503.62,50.42 L504.70,51.06 L505.79,51.71 L506.87,52.36 L507.96,53.03 L509.05,53.71 L510.13,54.39 L511.22,55.09 L512.30,55.80 L513.39,56.51 L514.48,57.24 L515.56,57.97 L516.65,58.71 L517.73,59.47 L518.82,60.23 L519.91,61.00 L520.99,61.78 L522.08,62.57 L523.16,63.37 L524.25,64.17 L525.34,64.99 L526.42,65.81 L527.51,66.65 L528.59,67.49 L529.68,68.34 L530.77,69.19 L531.85,70.06 L532.94,70.93 L534.02,71.81 L535.11,72.70 L536.20,73.60 L537.28,74.51 L538.37,75.42 L539.45,76.34 L540.54,77.27 L541.63,78.20 L542.71,79.15 L543.80,80.10 L544.88,81.06 L545.97,82.02 L547.06,82.99 L548.14,83.97 L549.23,84.96 L550.31,85.95 L551.40,86.96 L552.49,87.96 L553.57,88.98 L554.66,90.00 L555.74,91.03 L556.83,92.06 L557.92,93.11 L559.00,94.16 L560.09,95.21 L561.17,96.27 L562.26,97.34 L563.35,98.42 L564.43,99.50 L565.52,100.59 L566.60,101.69 L567.69,102.79 L568.78,103.90 L569.86,105.01 L570.95,106.13 L572.03,107.26 L573.12,108.40 L574.21,109.54 L575.29,110.69 L576.38,111.84 L577.46,113.00 L578.55,114.17 L579.64,115.34 L580.72,116.53 L581.81,117.71 L582.89,118.91 L583.98,120.11 L585.07,121.32 L586.15,122.53 L587.24,123.75 L588.32,124.98 L589.41,126.22 L590.50,127.46 L591.58,128.71 L592.67,129.96 L593.75,131.23 L594.84,132.50 L595.93,133.77 L597.01,135.06 L598.10,136.35 L599.18,137.65 L600.27,138.96 L601.36,140.28 L602.44,141.60 L603.53,142.93 L604.61,144.27 L605.70,145.62 L606.79,146.97 L607.87,148.34 L608.96,149.71 L610.04,151.09 L611.13,152.48 L612.22,153.88 L613.30,155.28 L614.39,156.70 L615.47,158.12 L616.56,159.56 L617.65,161.00 L618.73,162.46 L619.82,163.92 L620.90,165.39 L621.99,166.88 L623.08,168.37 L624.16,169.88 L625.25,171.39 L626.33,172.92 L627.42,174.46 L628.51,176.01 L629.59,177.57 L630.68,179.14 L631.76,180.73 L632.85,182.32 L633.94,183.93 L635.02,185.56 L636.11,187.19 L637.19,188.84 L638.28,190.50 L639.37,192.18 L640.45,193.87 L641.54,195.57 L642.62,197.29 L643.71,199.02 L644.80,200.77 L645.88,202.53 L646.97,204.31 L648.05,206.11 L649.14,207.92 L650.23,209.75 L651.31,211.59 L652.40,213.45 L653.48,215.33 L654.57,217.23 L655.66,219.15 L656.74,221.08 L657.83,223.03 L658.91,225.01 L660.00,227.00" fill="none" stroke="#00ffff" stroke-width="2.55" stroke-dasharray="10.0 10.0" stroke-linejoin="round"/>
<path d="M388.50,54.92 L389.59,54.26 L390.67,53.61 L391.76,52.98 L392.84,52.36 L393.93,51.76 L395.02,51.16 L396.10,50.58 L397.19,50.01 L398.27,49.46 L399.36,48.92 L400.45,48.39 L401.53,47.87 L402.62,47.37 L403.70,46.88 L404.79,46.40 L405.88,45.94 L406.96,45.49 L408.05,45.05 L409.13,44.63 L410.22,44.22 L411.31,43.82 L412.39,43.44 L413.48,43.07 L414.56,42.72 L415.65,42.37 L416.74,42.04 L417.82,41.73 L418.91,41.43 L419.99,41.14 L421.08,40.86 L422.17,40.60 L423.25,40.36 L424.34,40.12 L425.42,39.90 L426.51,39.69 L427.60,39.50 L428.68,39.32 L429.77,39.15 L430.85,39.00 L431.94,38.86 L433.03,38.73 L434.11,38.62 L435.20,38.52 L436.28,38.44 L437.37,38.36 L438.46,38.30 L439.54,38.26 L440.63,38.23 L441.71,38.21 L442.80,38.20 L443.89,38.21 L444.97,38.23 L446.06,38.26 L447.14,38.31 L448.23,38.37 L449.32,38.44 L450.40,38.52 L451.49,38.62 L452.57,38.73 L453.66,38.86 L454.75,38.99 L455.83,39.14 L456.92,39.30 L458.00,39.48 L459.09,39.66 L460.18,39.86 L461.26,40.08 L462.35,40.30 L463.43,40.54 L464.52,40.79 L465.61,41.05 L466.69,41.32 L467.78,41.60 L468.86,41.90 L469.95,42.21 L471.04,42.53 L472.12,42.87 L473.21,43.21 L474.29,43.57 L475.38,43.94 L476.47,44.31 L477.55,44.71 L478.64,45.11 L479.72,45.52 L480.81,45.95 L481.90,46.38 L482.98,46.83 L484.07,47.29 L485.15,47.76 L486.24,48.24 L487.33,48.73 L488.41,49.24 L489.50,49.75 L490.58,50.27 L491.67,50.81 L492.76,51.35 L493.84,51.91 L494.93,52.47 L496.01,53.05 L497.10,53.63 L498.19,54.23 L499.27,54.84 L500.36,55.45 L501.44,56.08 L502.53,56.71 L503.62,57.36 L504.70,58.01 L505.79,58.68 L506.87,59.35 L507.96,60.04 L509.05,60.73 L510.13,61.43 L511.22,62.14 L512.30,62.86 L513.39,63.59 L514.48,64.33 L515.56,65.08 L516.65,65.83 L517.73,66.60 L518.82,67.37 L519.91,68.15 L520.99,68.95 L522.08,69.74 L523.16,70.55 L524.25,71.37 L525.34,72.19 L526.42,73.02 L527.51,73.86 L528.59,74.71 L529.68,75.57 L530.77,76.43 L531.85,77.30 L532.94,78.18 L534.02,79.07 L535.11,79.97 L536.20,80.87 L537.28,81.78 L538.37,82.70 L539.45,83.62 L540.54,84.55 L541.63,85.49 L542.71,86.44 L543.80,87.39 L544.88,88.35 L545.97,89.32 L547.06,90.29 L548.14,91.28 L549.23,92.26 L550.31,93.26 L551.40,94.26 L552.49,95.27 L553.57,96.28 L554.66,97.30 L555.74,98.33 L556.83,99.37 L557.92,100.41 L559.00,101.45 L560.09,102.51 L561.17,103.57 L562.26,104.63 L563.35,105.71 L564.43,106.79 L565.52,107.87 L566.60,108.96 L567.69,110.06 L568.78,111.16 L569.86,112.27 L570.95,113.39 L572.03,114.51 L573.12,115.63 L574.21,116.77 L575.29,117.91 L576.38,119.05 L577.46,120.20 L578.55,121.36 L579.64,122.52 L580.72,123.69 L581.81,124.86 L582.89,126.04 L583.98,127.23 L585.07,128.42 L586.15,129.62 L587.24,130.82 L588.32,132.03 L589.41,133.24 L590.50,134.47 L591.58,135.69 L592.67,136.92 L593.75,138.16 L594.84,139.41 L595.93,140.66 L597.01,141.91 L598.10,143.18 L599.18,144.44 L600.27,145.72 L601.36,147.00 L602.44,148.28 L603.53,149.58 L604.61,150.87 L605.70,152.18 L606.79,153.49 L607.87,154.81 L608.96,156.13 L610.04,157.46 L611.13,158.80 L612.22,160.14 L613.30,161.49 L614.39,162.84 L615.47,164.21 L616.56,165.58 L617.65,166.95 L618.73,168.33 L619.82,169.72 L620.90,171.12 L621.99,172.53 L623.08,173.94 L624.16,175.36 L625.25,176.78 L626.33,178.21 L627.42,179.66 L628.51,181.10 L629.59,182.56 L630.68,184.02 L631.76,185.50 L632.85,186.98 L633.94,188.46 L635.02,189.96 L636.11,191.47 L637.19,192.98 L638.28,194.50 L639.37,196.03 L640.45,197.57 L641.54,199.12 L642.62,200.68 L643.71,202.25 L644.80,203.83 L645.88,205.41 L646.97,207.01 L648.05,208.62 L649.14,210.23 L650.23,211.86 L651.31,213.50 L652.40,215.15 L653.48,216.81 L654.57,218.48 L655.66,220.16 L656.74,221.85 L657.83,223.56 L658.91,225.27 L660.00,227.00" fill="none" stroke="#ff0000" stroke-width="1.65" stroke-linejoin="round"/>
<path d="M388.50,54.92 L389.59,54.26 L390.67,53.61 L391.76,52.98 L392.84,52.36 L393.93,51.76 L395.02,51.16 L396.10,50.58 L397.19,50.01 L398.27,49.46 L399.36,48.92 L400.45,48.39 L401.53,47.87 L402.62,47.37 L403.70,46.88 L404.79,46.40 L405.88,45.94 L406.96,45.49 L408.05,45.05 L409.13,44.63 L410.22,44.22 L411.31,43.82 L412.39,43.44 L413.48,43.07 L414.56,42.72 L415.65,42.37 L416.74,42.04 L417.82,41.73 L418.91,41.43 L419.99,41.14 L421.08,40.86 L422.17,40.60 L423.25,40.36 L424.34,40.12 L425.42,39.90 L426.51,39.69 L427.60,39.50 L428.68,39.32 L429.77,39.15 L430.85,39.00 L431.94,38.86 L433.03,38.73 L434.11,38.62 L435.20,38.52 L436.28,38.44 L437.37,38.36 L438.46,38.30 L439.54,38.26 L440.63,38.23 L441.71,38.21 L442.80,38.20 L443.89,38.21 L444.97,38.23 L446.06,38.26 L447.14,38.31 L448.23,38.37 L449.32,38.44 L450.40,38.52 L451.49,38.62 L452.57,38.73 L453.66,38.86 L454.75,38.99 L455.83,39.14 L456.92,39.30 L458.00,39.48 L459.09,39.66 L460.18,39.86 L461.26,40.08 L462.35,40.30 L463.43,40.54 L464.52,40.79 L465.61,41.05 L466.69,41.32 L467.78,41.60 L468.86,41.90 L469.95,42.21 L471.04,42.53 L472.12,42.87 L473.21,43.21 L474.29,43.57 L475.38,43.94 L476.47,44.31 L477.55,44.71 L478.64,45.11 L479.72,45.52 L480.81,45.95 L481.90,46.38 L482.98,46.83 L484.07,47.29 L485.15,47.76 L486.24,48.24 L487.33,48.73 L488.41,49.24 L489.50,49.75 L490.58,50.27 L491.67,50.81 L492.76,51.35 L493.84,51.91 L494.93,52.47 L496.01,53.05 L497.10,53.63 L498.19,54.23 L499.27,54.84 L500.36,55.45 L501.44,56.08 L502.53,56.71 L503.62,57.36 L504.70,58.01 L505.79,58.68 L506.87,59.35 L507.96,60.04 L509.05,60.73 L510.13,61.43 L511.22,62.14 L512.30,62.86 L513.39,63.59 L514.48,64.33 L515.56,65.08 L516.65,65.83 L517.73,66.60 L518.82,67.37 L519.91,68.15 L520.99,68.95 L522.08,69.74 L523.16,70.55 L524.25,71.37 L525.34,72.19 L526.42,73.02 L527.51,73.86 L528.59,74.71 L529.68,75.57 L530.77,76.43 L531.85,77.30 L532.94,78.18 L534.02,79.07 L535.11,79.97 L536.20,80.87 L537.28,81.78 L538.37,82.70 L539.45,83.62 L540.54,84.55 L541.63,85.49 L542.71,86.44 L543.80,87.39 L544.88,88.35 L545.97,89.32 L547.06,90.29 L548.14,91.28 L549.23,92.26 L550.31,93.26 L551.40,94.26 L552.49,95.27 L553.57,96.28 L554.66,97.30 L555.74,98.33 L556.83,99.37 L557.92,100.41 L559.00,101.45 L560.09,102.51 L561.17,103.57 L562.26,104.63 L563.35,105.71 L564.43,106.79 L565.52,107.87 L566.60,108.96 L567.69,110.06 L568.78,111.16 L569.86,112.27 L570.95,113.39 L572.03,114.51 L573.12,115.63 L574.21,116.77 L575.29,117.91 L576.38,119.05 L577.46,120.20 L578.55,121.36 L579.64,122.52 L580.72,123.69 L581.81,124.86 L582.89,126.04 L583.98,127.23 L585.07,128.42 L586.15,129.62 L587.24,130.82 L588.32,132.03 L589.41,133.24 L590.50,134.47 L591.58,135.69 L592.67,136.92 L593.75,138.16 L594.84,139.41 L595.93,140.66 L597.01,141.91 L598.10,143.18 L599.18,144.44 L600.27,145.72 L601.36,147.00 L602.44,148.28 L603.53,149.58 L604.61,150.87 L605.70,152.18 L606.79,153.49 L607.87,154.81 L608.96,156.13 L610.04,157.46 L611.13,158.80 L612.22,160.14 L613.30,161.49 L614.39,162.84 L615.47,164.21 L616.56,165.58 L617.65,166.95 L618.73,168.33 L619.82,169.72 L620.90,171.12 L621.99,172.53 L623.08,173.94 L624.16,175.36 L625.25,176.78 L626.33,178.21 L627.42,179.66 L628.51,181.10 L629.59,182.56 L630.68,184.02 L631.76,185.50 L632.85,186.98 L633.94,188.46 L635.02,189.96 L636.11,191.47 L637.19,192.98 L638.28,194.50 L639.37,196.03 L640.45,197.57 L641.54,199.12 L642.62,200.68 L643.71,202.25 L644.80,203.83 L645.88,205.41 L646.97,207.01 L648.05,208.62 L649.14,210.23 L650.23,211.86 L651.31,213.50 L652.40,215.15 L653.48,216.81 L654.57,218.48 L655.66,220.16 L656.74,221.85 L657.83,223.56 L658.91,225.27 L660.00,227.00" fill="none" stroke="#ff0000" stroke-width="2.55" stroke-dasharray="10.0 10.0" stroke-dashoffset="-10.0" stroke-linejoin="round"/>
<path d="M388.50,54.92 L389.59,54.26 L390.67,53.61 L391.76,52.98 L392.84,52.36 L393.93,51.76 L395.02,51.16 L396.10,50.58 L397.19,50.01 L398.27,49.46 L399.36,48.92 L400.45,48.39 L401.53,47.87 L402.62,47.37 L403.70,46.88 L404.79,46.40 L405.88,45.94 L406.96,45.49 L408.05,45.05 L409.13,44.63 L410.22,44.22 L411.31,43.82 L412.39,43.44 L413.48,43.07 L414.56,42.72 L415.65,42.37 L416.74,42.04 L417.82,41.73 L418.91,41.43 L419.99,41.14 L421.08,40.86 L422.17,40.60 L423.25,40.36 L424.34,40.12 L425.42,39.90 L426.51,39.69 L427.60,39.50 L428.68,39.32 L429.77,39.15 L430.85,39.00 L431.94,38.86 L433.03,38.73 L434.11,38.62 L435.20,38.52 L436.28,38.44 L437.37,38.36 L438.46,38.30 L439.54,38.26 L440.63,38.23 L441.71,38.21 L442.80,38.20 L443.89,38.21 L444.97,38.23 L446.06,38.26 L447.14,38.31 L448.23,38.37 L449.32,38.44 L450.40,38.52 L451.49,38.62 L452.57,38.73 L453.66,38.86 L454.75,38.99 L455.83,39.14 L456.92,39.30 L458.00,39.48 L459.09,39.66 L460.18,39.86 L461.26,40.08 L462.35,40.30 L463.43,40.54 L464.52,40.79 L465.61,41.05 L466.69,41.32 L467.78,41.60 L468.86,41.90 L469.95,42.21 L471.04,42.53 L472.12,42.87 L473.21,43.21 L474.29,43.57 L475.38,43.94 L476.47,44.31 L477.55,44.71 L478.64,45.11 L479.72,45.52 L480.81,45.95 L481.90,46.38 L482.98,46.83 L484.07,47.29 L485.15,47.76 L486.24,48.24 L487.33,48.73 L488.41,49.24 L489.50,49.75 L490.58,50.27 L491.67,50.81 L492.76,51.35 L493.84,51.91 L494.93,52.47 L496.01,53.05 L497.10,53.63 L498.19,54.23 L499.27,54.84 L500.36,55.45 L501.44,56.08 L502.53,56.71 L503.62,57.36 L504.70,58.01 L505.79,58.68 L506.87,59.35 L507.96,60.04 L509.05,60.73 L510.13,61.43 L511.22,62.14 L512.30,62.86 L513.39,63.59 L514.48,64.33 L515.56,65.08 L516.65,65.83 L517.73,66.60 L518.82,67.37 L519.91,68.15 L520.99,68.95 L522.08,69.74 L523.16,70.55 L524.25,71.37 L525.34,72.19 L526.42,73.02 L527.51,73.86 L528.59,74.71 L529.68,75.57 L530.77,76.43 L531.85,77.30 L532.94,78.18 L534.02,79.07 L535.11,79.97 L536.20,80.87 L537.28,81.78 L538.37,82.70 L539.45,83.62 L540.54,84.55 L541.63,85.49 L542.71,86.44 L543.80,87.39 L544.88,88.35 L545.97,89.32 L547.06,90.29 L548.14,91.28 L549.23,92.26 L550.31,93.26 L551.40,94.26 L552.49,95.27 L553.57,96.28 L554.66,97.30 L555.74,98.33 L556.83,99.37 L557.92,100.41 L559.00,101.45 L560.09,102.51 L561.17,103.57 L562.26,104.63 L563.35,105.71 L564.43,106.79 L565.52,107.87 L566.60,108.96 L567.69,110.06 L568.78,111.16 L569.86,112.27 L570.95,113.39 L572.03,114.51 L573.12,115.63 L574.21,116.77 L575.29,117.91 L576.38,119.05 L577.46,120.20 L578.55,121.36 L579.64,122.52 L580.72,123.69 L581.81,124.86 L582.89,126.04 L583.98,127.23 L585.07,128.42 L586.15,129.62 L587.24,130.82 L588.32,132.03 L589.41,133.24 L590.50,134.47 L591.58,135.69 L592.67,136.92 L593.75,138.16 L594.84,139.41 L595.93,140.66 L597.01,141.91 L598.10,143.18 L599.18,144.44 L600.27,145.72 L601.36,147.00 L602.44,148.28 L603.53,149.58 L604.61,150.87 L605.70,152.18 L606.79,153.49 L607.87,154.81 L608.96,156.13 L610.04,157.46 L611.13,158.80 L612.22,160.14 L613.30,161.49 L614.39,162.84 L615.47,164.21 L616.56,165.58 L617.65,166.95 L618.73,168.33 L619.82,169.72 L620.90,171.12 L621.99,172.53 L623.08,173.94 L624.16,175.36 L625.25,176.78 L626.33,178.21 L627.42,179.66 L628.51,181.10 L629.59,182.56 L630.68,184.02 L631.76,185.50 L632.85,186.98 L633.94,188.46 L635.02,189.96 L636.11,191.47 L637.19,192.98 L638.28,194.50 L639.37,196.03 L640.45,197.57 L641.54,199.12 L642.62,200.68 L643.71,202.25 L644.80,203.83 L645.88,205.41 L646.97,207.01 L648.05,208.62 L649.14,210.23 L650.23,211.86 L651.31,213.50 L652.40,215.15 L653.48,216.81 L654.57,218.48 L655.66,220.16 L656.74,221.85 L657.83,223.56 L658.91,225.27 L660.00,227.00" fill="none" stroke="#00ff00" stroke-width="2.55" stroke-dasharray="10.0 10.0" stroke-linejoin="round"/>
<path d="M388.50,54.92 L389.59,54.33 L390.67,53.76 L391.76,53.21 L392.84,52.67 L393.93,52.14 L395.02,51.62 L396.10,51.12 L397.19,50.64 L398.27,50.17 L399.36,49.71 L400.45,49.26 L401.53,48.83 L402.62,48.42 L403.70,48.01 L404.79,47.62 L405.88,47.25 L406.96,46.89 L408.05,46.54 L409.13,46.20 L410.22,45.88 L411.31,45.58 L412.39,45.28 L413.48,45.00 L414.56,44.74 L415.65,44.48 L416.74,44.24 L417.82,44.02 L418.91,43.80 L419.99,43.61 L421.08,43.42 L422.17,43.25 L423.25,43.09 L424.34,42.94 L425.42,42.81 L426.51,42.69 L427.60,42.58 L428.68,42.49 L429.77,42.41 L430.85,42.34 L431.94,42.29 L433.03,42.24 L434.11,42.22 L435.20,42.20 L436.28,42.20 L437.37,42.20 L438.46,42.23 L439.54,42.26 L440.63,42.31 L441.71,42.37 L442.80,42.44 L443.89,42.52 L444.97,42.62 L446.06,42.73 L447.14,42.85 L448.23,42.98 L449.32,43.13 L450.40,43.28 L451.49,43.45 L452.57,43.63 L453.66,43.83 L454.75,44.03 L455.83,44.25 L456.92,44.48 L458.00,44.72 L459.09,44.97 L460.18,45.23 L461.26,45.51 L462.35,45.79 L463.43,46.09 L464.52,46.40 L465.61,46.72 L466.69,47.05 L467.78,47.39 L468.86,47.74 L469.95,48.10 L471.04,48.48 L472.12,48.86 L473.21,49.26 L474.29,49.67 L475.38,50.08 L476.47,50.51 L477.55,50.95 L478.64,51.40 L479.72,51.86 L480.81,52.32 L481.90,52.80 L482.98,53.29 L484.07,53.79 L485.15,54.30 L486.24,54.82 L487.33,55.35 L488.41,55.89 L489.50,56.44 L490.58,56.99 L491.67,57.56 L492.76,58.14 L493.84,58.73 L494.93,59.32 L496.01,59.93 L497.10,60.54 L498.19,61.17 L499.27,61.80 L500.36,62.44 L501.44,63.09 L502.53,63.75 L503.62,64.42 L504.70,65.09 L505.79,65.78 L506.87,66.47 L507.96,67.18 L509.05,67.89 L510.13,68.61 L511.22,69.34 L512.30,70.07 L513.39,70.82 L514.48,71.57 L515.56,72.33 L516.65,73.10 L517.73,73.87 L518.82,74.66 L519.91,75.45 L520.99,76.25 L522.08,77.06 L523.16,77.87 L524.25,78.69 L525.34,79.52 L526.42,80.36 L527.51,81.21 L528.59,82.06 L529.68,82.92 L530.77,83.78 L531.85,84.66 L532.94,85.54 L534.02,86.42 L535.11,87.32 L536.20,88.22 L537.28,89.13 L538.37,90.04 L539.45,90.96 L540.54,91.89 L541.63,92.82 L542.71,93.77 L543.80,94.71 L544.88,95.67 L545.97,96.63 L547.06,97.59 L548.14,98.57 L549.23,99.54 L550.31,100.53 L551.40,101.52 L552.49,102.52 L553.57,103.52 L554.66,104.53 L555.74,105.54 L556.83,106.56 L557.92,107.59 L559.00,108.62 L560.09,109.66 L561.17,110.70 L562.26,111.75 L563.35,112.81 L564.43,113.87 L565.52,114.93 L566.60,116.00 L567.69,117.08 L568.78,118.16 L569.86,119.25 L570.95,120.34 L572.03,121.44 L573.12,122.54 L574.21,123.65 L575.29,124.76 L576.38,125.88 L577.46,127.00 L578.55,128.13 L579.64,129.26 L580.72,130.40 L581.81,131.55 L582.89,132.70 L583.98,133.85 L585.07,135.01 L586.15,136.17 L587.24,137.34 L588.32,138.51 L589.41,139.69 L590.50,140.87 L591.58,142.06 L592.67,143.25 L593.75,144.45 L594.84,145.65 L595.93,146.86 L597.01,148.07 L598.10,149.29 L599.18,150.51 L600.27,151.73 L601.36,152.96 L602.44,154.20 L603.53,155.44 L604.61,156.68 L605.70,157.93 L606.79,159.19 L607.87,160.45 L608.96,161.71 L610.04,162.98 L611.13,164.25 L612.22,165.53 L613.30,166.81 L614.39,168.10 L615.47,169.39 L616.56,170.69 L617.65,171.99 L618.73,173.30 L619.82,174.61 L620.90,175.93 L621.99,177.25 L623.08,178.58 L624.16,179.91 L625.25,181.25 L626.33,182.59 L627.42,183.94 L628.51,185.29 L629.59,186.65 L630.68,188.01 L631.76,189.38 L632.85,190.76 L633.94,192.14 L635.02,193.52 L636.11,194.91 L637.19,196.31 L638.28,197.71 L639.37,199.11 L640.45,200.53 L641.54,201.94 L642.62,203.37 L643.71,204.80 L644.80,206.23 L645.88,207.68 L646.97,209.12 L648.05,210.58 L649.14,212.04 L650.23,213.51 L651.31,214.98 L652.40,216.46 L653.48,217.94 L654.57,219.44 L655.66,220.94 L656.74,222.44 L657.83,223.95 L658.91,225.47 L660.00,227.00" fill="none" stroke="#ffff00" stroke-width="1.65" stroke-linejoin="round"/>
<path d="M388.50,54.92 L389.59,54.33 L390.67,53.76 L391.76,53.21 L392.84,52.67 L393.93,52.14 L395.02,51.62 L396.10,51.12 L397.19,50.64 L398.27,50.17 L399.36,49.71 L400.45,49.26 L401.53,48.83 L402.62,48.42 L403.70,48.01 L404.79,47.62 L405.88,47.25 L406.96,46.89 L408.05,46.54 L409.13,46.20 L410.22,45.88 L411.31,45.58 L412.39,45.28 L413.48,45.00 L414.56,44.74 L415.65,44.48 L416.74,44.24 L417.82,44.02 L418.91,43.80 L419.99,43.61 L421.08,43.42 L422.17,43.25 L423.25,43.09 L424.34,42.94 L425.42,42.81 L426.51,42.69 L427.60,42.58 L428.68,42.49 L429.77,42.41 L430.85,42.34 L431.94,42.29 L433.03,42.24 L434.11,42.22 L435.20,42.20 L436.28,42.20 L437.37,42.20 L438.46,42.23 L439.54,42.26 L440.63,42.31 L441.71,42.37 L442.80,42.44 L443.89,42.52 L444.97,42.62 L446.06,42.73 L447.14,42.85 L448.23,42.98 L449.32,43.13 L450.40,43.28 L451.49,43.45 L452.57,43.63 L453.66,43.83 L454.75,44.03 L455.83,44.25 L456.92,44.48 L458.00,44.72 L459.09,44.97 L460.18,45.23 L461.26,45.51 L462.35,45.79 L463.43,46.09 L464.52,46.40 L465.61,46.72 L466.69,47.05 L467.78,47.39 L468.86,47.74 L469.95,48.10 L471.04,48.48 L472.12,48.86 L473.21,49.26 L474.29,49.67 L475.38,50.08 L476.47,50.51 L477.55,50.95 L478.64,51.40 L479.72,51.86 L480.81,52.32 L481.90,52.80 L482.98,53.29 L484.07,53.79 L485.15,54.30 L486.24,54.82 L487.33,55.35 L488.41,55.89 L489.50,56.44 L490.58,56.99 L491.67,57.56 L492.76,58.14 L493.84,58.73 L494.93,59.32 L496.01,59.93 L497.10,60.54 L498.19,61.17 L499.27,61.80 L500.36,62.44 L501.44,63.09 L502.53,63.75 L503.62,64.42 L504.70,65.09 L505.79,65.78 L506.87,66.47 L507.96,67.18 L509.05,67.89 L510.13,68.61 L511.22,69.34 L512.30,70.07 L513.39,70.82 L514.48,71.57 L515.56,72.33 L516.65,73.10 L517.73,73.87 L518.82,74.66 L519.91,75.45 L520.99,76.25 L522.08,77.06 L523.16,77.87 L524.25,78.69 L525.34,79.52 L526.42,80.36 L527.51,81.21 L528.59,82.06 L529.68,82.92 L530.77,83.78 L531.85,84.66 L532.94,85.54 L534.02,86.42 L535.11,87.32 L536.20,88.22 L537.28,89.13 L538.37,90.04 L539.45,90.96 L540.54,91.89 L541.63,92.82 L542.71,93.77 L543.80,94.71 L544.88,95.67 L545.97,96.63 L547.06,97.59 L548.14,98.57 L549.23,99.54 L550.31,100.53 L551.40,101.52 L552.49,102.52 L553.57,103.52 L554.66,104.53 L555.74,105.54 L556.83,106.56 L557.92,107.59 L559.00,108.62 L560.09,109.66 L561.17,110.70 L562.26,111.75 L563.35,112.81 L564.43,113.87 L565.52,114.93 L566.60,116.00 L567.69,117.08 L568.78,118.16 L569.86,119.25 L570.95,120.34 L572.03,121.44 L573.12,122.54 L574.21,123.65 L575.29,124.76 L576.38,125.88 L577.46,127.00 L578.55,128.13 L579.64,129.26 L580.72,130.40 L581.81,131.55 L582.89,132.70 L583.98,133.85 L585.07,135.01 L586.15,136.17 L587.24,137.34 L588.32,138.51 L589.41,139.69 L590.50,140.87 L591.58,142.06 L592.67,143.25 L593.75,144.45 L594.84,145.65 L595.93,146.86 L597.01,148.07 L598.10,149.29 L599.18,150.51 L600.27,151.73 L601.36,152.96 L602.44,154.20 L603.53,155.44 L604.61,156.68 L605.70,157.93 L606.79,159.19 L607.87,160.45 L608.96,161.71 L610.04,162.98 L611.13,164.25 L612.22,165.53 L613.30,166.81 L614.39,168.10 L615.47,169.39 L616.56,170.69 L617.65,171.99 L618.73,173.30 L619.82,174.61 L620.90,175.93 L621.99,177.25 L623.08,178.58 L624.16,179.91 L625.25,181.25 L626.33,182.59 L627.42,183.94 L628.51,185.29 L629.59,186.65 L630.68,188.01 L631.76,189.38 L632.85,190.76 L633.94,192.14 L635.02,193.52 L636.11,194.91 L637.19,196.31 L638.28,197.71 L639.37,199.11 L640.45,200.53 L641.54,201.94 L642.62,203.37 L643.71,204.80 L644.80,206.23 L645.88,207.68 L646.97,209.12 L648.05,210.58 L649.14,212.04 L650.23,213.51 L651.31,214.98 L652.40,216.46 L653.48,217.94 L654.57,219.44 L655.66,220.94 L656.74,222.44 L657.83,223.95 L658.91,225.47 L660.00,227.00" fill="none" stroke="#ffff00" stroke-width="2.55" stroke-dasharray="10.0 10.0" stroke-dashoffset="-10.0" stroke-linejoin="round"/>
<path d="M388.50,54.92 L389.59,54.33 L390.67,53.76 L391.76,53.21 L392.84,52.67 L393.93,52.14 L395.02,51.62 L396.10,51.12 L397.19,50.64 L398.27,50.17 L399.36,49.71 L400.45,49.26 L401.53,48.83 L402.62,48.42 L403.70,48.01 L404.79,47.62 L405.88,47.25 L406.96,46.89 L408.05,46.54 L409.13,46.20 L410.22,45.88 L411.31,45.58 L412.39,45.28 L413.48,45.00 L414.56,44.74 L415.65,44.48 L416.74,44.24 L417.82,44.02 L418.91,43.80 L419.99,43.61 L421.08,43.42 L422.17,43.25 L423.25,43.09 L424.34,42.94 L425.42,42.81 L426.51,42.69 L427.60,42.58 L428.68,42.49 L429.77,42.41 L430.85,42.34 L431.94,42.29 L433.03,42.24 L434.11,42.22 L435.20,42.20 L436.28,42.20 L437.37,42.20 L438.46,42.23 L439.54,42.26 L440.63,42.31 L441.71,42.37 L442.80,42.44 L443.89,42.52 L444.97,42.62 L446.06,42.73 L447.14,42.85 L448.23,42.98 L449.32,43.13 L450.40,43.28 L451.49,43.45 L452.57,43.63 L453.66,43.83 L454.75,44.03 L455.83,44.25 L456.92,44.48 L458.00,44.72 L459.09,44.97 L460.18,45.23 L461.26,45.51 L462.35,45.79 L463.43,46.09 L464.52,46.40 L465.61,46.72 L466.69,47.05 L467.78,47.39 L468.86,47.74 L469.95,48.10 L471.04,48.48 L472.12,48.86 L473.21,49.26 L474.29,49.67 L475.38,50.08 L476.47,50.51 L477.55,50.95 L478.64,51.40 L479.72,51.86 L480.81,52.32 L481.90,52.80 L482.98,53.29 L484.07,53.79 L485.15,54.30 L486.24,54.82 L487.33,55.35 L488.41,55.89 L489.50,56.44 L490.58,56.99 L491.67,57.56 L492.76,58.14 L493.84,58.73 L494.93,59.32 L496.01,59.93 L497.10,60.54 L498.19,61.17 L499.27,61.80 L500.36,62.44 L501.44,63.09 L502.53,63.75 L503.62,64.42 L504.70,65.09 L505.79,65.78 L506.87,66.47 L507.96,67.18 L509.05,67.89 L510.13,68.61 L511.22,69.34 L512.30,70.07 L513.39,70.82 L514.48,71.57 L515.56,72.33 L516.65,73.10 L517.73,73.87 L518.82,74.66 L519.91,75.45 L520.99,76.25 L522.08,77.06 L523.16,77.87 L524.25,78.69 L525.34,79.52 L526.42,80.36 L527.51,81.21 L528.59,82.06 L529.68,82.92 L530.77,83.78 L531.85,84.66 L532.94,85.54 L534.02,86.42 L535.11,87.32 L536.20,88.22 L537.28,89.13 L538.37,90.04 L539.45,90.96 L540.54,91.89 L541.63,92.82 L542.71,93.77 L543.80,94.71 L544.88,95.67 L545.97,96.63 L547.06,97.59 L548.14,98.57 L549.23,99.54 L550.31,100.53 L551.40,101.52 L552.49,102.52 L553.57,103.52 L554.66,104.53 L555.74,105.54 L556.83,106.56 L557.92,107.59 L559.00,108.62 L560.09,109.66 L561.17,110.70 L562.26,111.75 L563.35,112.81 L564.43,113.87 L565.52,114.93 L566.60,116.00 L567.69,117.08 L568.78,118.16 L569.86,119.25 L570.95,120.34 L572.03,121.44 L573.12,122.54 L574.21,123.65 L575.29,124.76 L576.38,125.88 L577.46,127.00 L578.55,128.13 L579.64,129.26 L580.72,130.40 L581.81,131.55 L582.89,132.70 L583.98,133.85 L585.07,135.01 L586.15,136.17 L587.24,137.34 L588.32,138.51 L589.41,139.69 L590.50,140.87 L591.58,142.06 L592.67,143.25 L593.75,144.45 L594.84,145.65 L595.93,146.86 L597.01,148.07 L598.10,149.29 L599.18,150.51 L600.27,151.73 L601.36,152.96 L602.44,154.20 L603.53,155.44 L604.61,156.68 L605.70,157.93 L606.79,159.19 L607.87,160.45 L608.96,161.71 L610.04,162.98 L611.13,164.25 L612.22,165.53 L613.30,166.81 L614.39,168.10 L615.47,169.39 L616.56,170.69 L617.65,171.99 L618.73,173.30 L619.82,174.61 L620.90,175.93 L621.99,177.25 L623.08,178.58 L624.16,179.91 L625.25,181.25 L626.33,182.59 L627.42,183.94 L628.51,185.29 L629.59,186.65 L630.68,188.01 L631.76,189.38 L632.85,190.76 L633.94,192.14 L635.02,193.52 L636.11,194.91 L637.19,196.31 L638.28,197.71 L639.37,199.11 L640.45,200.53 L641.54,201.94 L642.62,203.37 L643.71,204.80 L644.80,206.23 L645.88,207.68 L646.97,209.12 L648.05,210.58 L649.14,212.04 L650.23,213.51 L651.31,214.98 L652.40,216.46 L653.48,217.94 L654.57,219.44 L655.66,220.94 L656.74,222.44 L657.83,223.95 L658.91,225.47 L660.00,227.00" fill="none" stroke="#000000" stroke-width="2.55" stroke-dasharray="10.0 10.0" stroke-linejoin="round"/>
<rect x="388.5" y="20.5" width="271.5" height="206.5" fill="none" stroke="#262626" stroke-width="0.65"/>
<path d="M388.50,227.0 v-2.9 M388.50,20.5 v2.9 M442.50,227.0 v-2.9 M442.50,20.5 v2.9 M497.00,227.0 v-2.9 M497.00,20.5 v2.9 M551.50,227.0 v-2.9 M551.50,20.5 v2.9 M605.50,227.0 v-2.9 M605.50,20.5 v2.9 M660.00,227.0 v-2.9 M660.00,20.5 v2.9 M388.5,227.00 h2.9 M660.0,227.00 h-2.9 M388.5,192.50 h2.9 M660.0,192.50 h-2.9 M388.5,158.00 h2.9 M660.0,158.00 h-2.9 M388.5,123.50 h2.9 M660.0,123.50 h-2.9 M388.5,89.50 h2.9 M660.0,89.50 h-2.9 M388.5,55.00 h2.9 M660.0,55.00 h-2.9 M388.5,20.50 h2.9 M660.0,20.50 h-2.9" stroke="#262626" stroke-width="0.65" fill="none"/>
<g transform="translate(388.40,243.0) scale(1,1.07)"><text text-anchor="middle" class="tk">0</text></g>
<g transform="translate(442.40,243.0) scale(1,1.07)"><text text-anchor="middle" class="tk">1</text><rect x="-3.89" y="-1.21" width="3.43" height="1.61" fill="#fff"/><rect x="0.86" y="-1.21" width="2.84" height="1.61" fill="#fff"/></g>
<g transform="translate(496.90,243.0) scale(1,1.07)"><text text-anchor="middle" class="tk">2</text></g>
<g transform="translate(551.40,243.0) scale(1,1.07)"><text text-anchor="middle" class="tk">3</text></g>
<g transform="translate(605.40,243.0) scale(1,1.07)"><text text-anchor="middle" class="tk">4</text></g>
<g transform="translate(659.90,243.0) scale(1,1.07)"><text text-anchor="middle" class="tk">5</text></g>
<g transform="translate(384.20,231.65) scale(1,1.07)"><text text-anchor="end" class="tk">0</text></g>
<g transform="translate(384.20,197.15) scale(1,1.07)"><text text-anchor="end" class="tk">0.2</text></g>
<g transform="translate(384.20,162.65) scale(1,1.07)"><text text-anchor="end" class="tk">0.4</text></g>
<g transform="translate(384.20,128.15) scale(1,1.07)"><text text-anchor="end" class="tk">0.6</text></g>
<g transform="translate(384.20,94.15) scale(1,1.07)"><text text-anchor="end" class="tk">0.8</text></g>
<g transform="translate(384.20,59.65) scale(1,1.07)"><text text-anchor="end" class="tk">1</text><rect x="-7.08" y="-1.21" width="3.43" height="1.61" fill="#fff"/><rect x="-2.34" y="-1.21" width="2.84" height="1.61" fill="#fff"/></g>
<g transform="translate(384.20,25.15) scale(1,1.07)"><text text-anchor="end" class="tk">1.2</text><rect x="-16.68" y="-1.21" width="3.43" height="1.61" fill="#fff"/><rect x="-11.93" y="-1.21" width="2.84" height="1.61" fill="#fff"/></g>
<text x="523.50" y="260.4" text-anchor="middle" class="mi" font-size="13">ζ</text>
<text transform="translate(362.80,130.70) rotate(-90)" text-anchor="middle" class="mi" font-size="12.5">ϕ</text>
<text transform="translate(362.80,124.00) rotate(-90)" text-anchor="middle" class="mi mr" font-size="14.0">(</text>
<text transform="translate(363.10,119.25) rotate(-90)" text-anchor="middle" class="mi" font-size="13.0">ζ</text>
<text transform="translate(362.80,113.90) rotate(-90)" text-anchor="middle" class="mi mr" font-size="14.0">)</text>
<rect x="392.4" y="125.5" width="143.6" height="98.8" fill="#fff" stroke="#262626" stroke-width="0.65"/>
<path d="M394.85,132.80 h24.9" stroke="#000000" stroke-width="2.55"/>
<text x="422.20" y="136.30" class="lg">Reference solution: </text>
<text x="503.75" y="136.30" class="mi sy">δ</text>
<text x="510.90" y="136.30" class="lg">= 0.2</text>
<path d="M394.85,144.93 h24.9" stroke="#ff00ff" stroke-width="2.55" stroke-dasharray="10 10"/>
<text x="422.20" y="148.43" class="lg"><tspan letter-spacing="0.015">MWNNs-PSO-NNA: </tspan></text>
<text x="505.90" y="148.43" class="mi sy">δ</text>
<text x="513.40" y="148.43" class="lg">= 0.2</text>
<path d="M394.85,157.06 h24.9" stroke="#0000ff" stroke-width="2.55"/>
<text x="422.20" y="160.56" class="lg">Reference solution: </text>
<text x="503.75" y="160.56" class="mi sy">δ</text>
<text x="510.90" y="160.56" class="lg">= 0.5</text>
<path d="M394.85,169.19 h24.9" stroke="#00ffff" stroke-width="2.55" stroke-dasharray="10 10"/>
<text x="422.20" y="172.69" class="lg"><tspan letter-spacing="0.015">MWNNs-PSO-NNA: </tspan></text>
<text x="505.90" y="172.69" class="mi sy">δ</text>
<text x="513.40" y="172.69" class="lg">= 0.5</text>
<path d="M394.85,181.32 h24.9" stroke="#ff0000" stroke-width="2.55"/>
<text x="422.20" y="184.82" class="lg">Reference solution: </text>
<text x="503.75" y="184.82" class="mi sy">δ</text>
<text x="510.90" y="184.82" class="lg">= 0.8</text>
<path d="M394.85,193.45 h24.9" stroke="#00ff00" stroke-width="2.55" stroke-dasharray="10 10"/>
<text x="422.20" y="196.95" class="lg"><tspan letter-spacing="0.015">MWNNs-PSO-NNA: </tspan></text>
<text x="505.90" y="196.95" class="mi sy">δ</text>
<text x="513.40" y="196.95" class="lg">= 0.8</text>
<path d="M394.85,205.58 h24.9" stroke="#ffff00" stroke-width="2.55"/>
<text x="422.20" y="209.08" class="lg">Reference solution: </text>
<text x="503.75" y="209.08" class="mi sy">δ</text>
<text x="510.90" y="209.08" class="lg">= 1.1</text>
<g transform="translate(518.73,209.08)"><rect x="-0.55" y="-1.38" width="2.68" height="2.13" fill="#fff"/><rect x="3.24" y="-1.38" width="2.22" height="2.13" fill="#fff"/></g>
<g transform="translate(526.31,209.08)"><rect x="-0.55" y="-1.38" width="2.68" height="2.13" fill="#fff"/><rect x="3.24" y="-1.38" width="2.22" height="2.13" fill="#fff"/></g>
<path d="M394.85,217.71 h24.9" stroke="#000000" stroke-width="2.55" stroke-dasharray="10 10"/>
<text x="422.20" y="221.21" class="lg"><tspan letter-spacing="0.015">MWNNs-PSO-NNA: </tspan></text>
<text x="505.90" y="221.21" class="mi sy">δ</text>
<text x="513.40" y="221.21" class="lg">= 1.1</text>
<g transform="translate(521.23,221.21)"><rect x="-0.55" y="-1.38" width="2.68" height="2.13" fill="#fff"/><rect x="3.24" y="-1.38" width="2.22" height="2.13" fill="#fff"/></g>
<g transform="translate(528.81,221.21)"><rect x="-0.55" y="-1.38" width="2.68" height="2.13" fill="#fff"/><rect x="3.24" y="-1.38" width="2.22" height="2.13" fill="#fff"/></g>
</g>
<text x="7.4" y="279.7" class="pl">(a)</text>
<text x="350.1" y="279.7" class="pl">(b)</text>
<rect x="0.5" y="0.5" width="684" height="283" fill="none" stroke="#333" stroke-width="1"/>
<path d="M342.5,0 V284" stroke="#333" stroke-width="1"/>
</svg>
</body></html>
